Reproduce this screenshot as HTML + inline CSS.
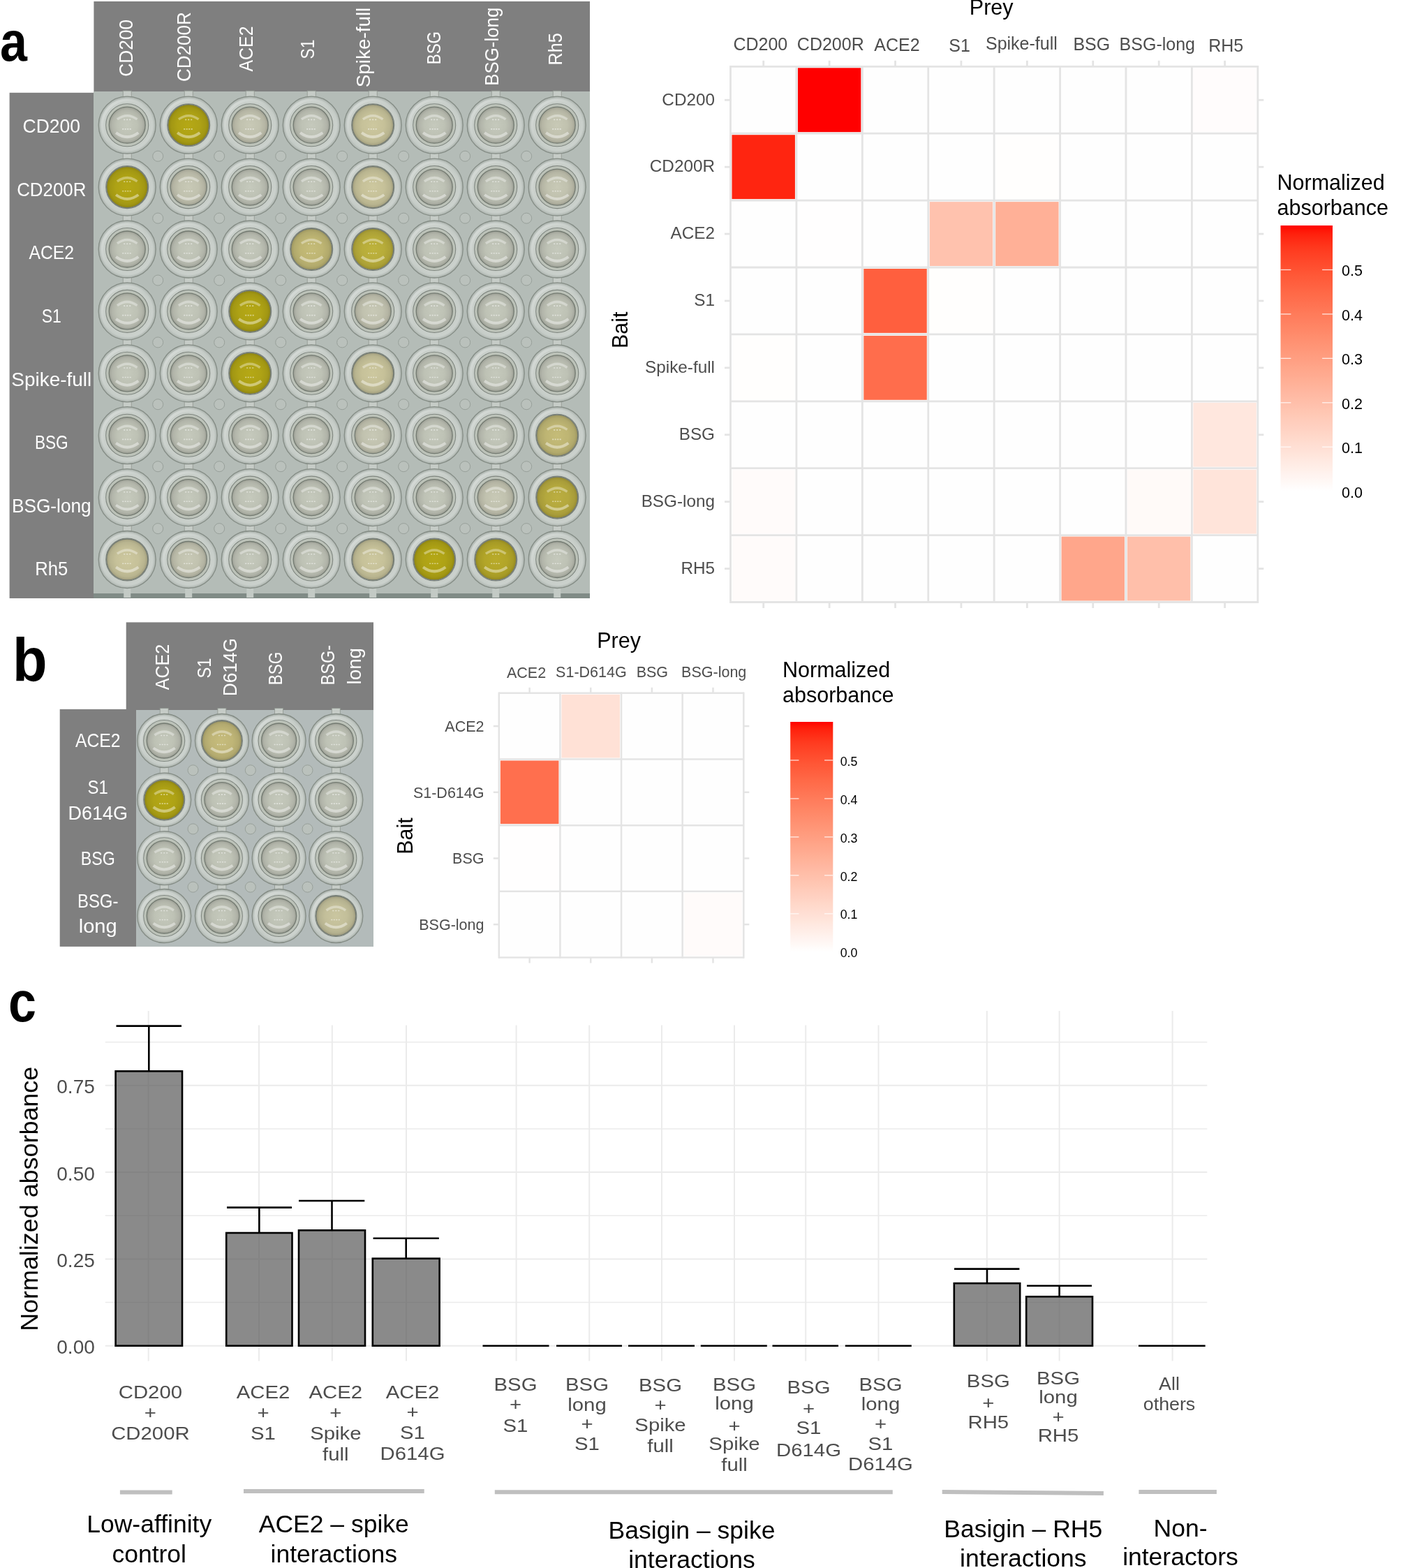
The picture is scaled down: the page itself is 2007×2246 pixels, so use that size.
<!DOCTYPE html>
<html><head><meta charset="utf-8"><title>Figure</title>
<style>html,body{margin:0;padding:0;background:#fff;} body{width:2007px;height:2246px;overflow:hidden;} svg{display:block;}</style>
</head><body>
<svg width="2007" height="2246" viewBox="0 0 2007 2246" font-family="'Liberation Sans', Arial, sans-serif"><defs>
<radialGradient id="gring" cx="50%" cy="50%" r="50%">
<stop offset="0.70" stop-color="#bac1bc"/><stop offset="0.78" stop-color="#cad0cb"/><stop offset="0.9" stop-color="#c3cac5"/><stop offset="0.97" stop-color="#b4bbb6"/><stop offset="1" stop-color="#9ea6a0"/></radialGradient>
<linearGradient id="ghl" x1="0" y1="0" x2="1" y2="1"><stop offset="0" stop-color="#ffffff" stop-opacity="0.35"/><stop offset="0.5" stop-color="#ffffff" stop-opacity="0"/><stop offset="1" stop-color="#ffffff" stop-opacity="0.15"/></linearGradient>
</defs>
<g id="pa">
<text x="0.0" y="86.8" font-size="79.5" fill="#000" text-anchor="start" font-weight="bold" transform="translate(0 86.8) scale(0.88 1) translate(0 -86.8)" >a</text>
<rect x="134.40" y="2.00" width="710.60" height="129.00" fill="#7f7f7f" />
<rect x="13.60" y="132.80" width="120.80" height="724.20" fill="#7f7f7f" />
<rect x="134.00" y="131.00" width="711.00" height="726.00" fill="#b4bcb7" />
<rect x="134.00" y="850.00" width="711.00" height="7.00" fill="#808b86" />
<rect x="177.2" y="838.5" width="10" height="17.5" fill="#c3cac5"/>
<rect x="265.2" y="838.5" width="10" height="17.5" fill="#c3cac5"/>
<rect x="353.2" y="838.5" width="10" height="17.5" fill="#c3cac5"/>
<rect x="441.2" y="838.5" width="10" height="17.5" fill="#c3cac5"/>
<rect x="529.2" y="838.5" width="10" height="17.5" fill="#c3cac5"/>
<rect x="617.2" y="838.5" width="10" height="17.5" fill="#c3cac5"/>
<rect x="705.2" y="838.5" width="10" height="17.5" fill="#c3cac5"/>
<rect x="793.2" y="838.5" width="10" height="17.5" fill="#c3cac5"/>
<rect x="176.2" y="130.2" width="12" height="14" fill="#c6ccc7" stroke="#8f978f" stroke-width="0.8"/>
<rect x="264.2" y="130.2" width="12" height="14" fill="#c6ccc7" stroke="#8f978f" stroke-width="0.8"/>
<rect x="352.2" y="130.2" width="12" height="14" fill="#c6ccc7" stroke="#8f978f" stroke-width="0.8"/>
<rect x="440.2" y="130.2" width="12" height="14" fill="#c6ccc7" stroke="#8f978f" stroke-width="0.8"/>
<rect x="528.2" y="130.2" width="12" height="14" fill="#c6ccc7" stroke="#8f978f" stroke-width="0.8"/>
<rect x="616.2" y="130.2" width="12" height="14" fill="#c6ccc7" stroke="#8f978f" stroke-width="0.8"/>
<rect x="704.2" y="130.2" width="12" height="14" fill="#c6ccc7" stroke="#8f978f" stroke-width="0.8"/>
<rect x="792.2" y="130.2" width="12" height="14" fill="#c6ccc7" stroke="#8f978f" stroke-width="0.8"/>
<rect x="176.2" y="219.1" width="12" height="14" fill="#c6ccc7" stroke="#8f978f" stroke-width="0.8"/>
<rect x="264.2" y="219.1" width="12" height="14" fill="#c6ccc7" stroke="#8f978f" stroke-width="0.8"/>
<rect x="352.2" y="219.1" width="12" height="14" fill="#c6ccc7" stroke="#8f978f" stroke-width="0.8"/>
<rect x="440.2" y="219.1" width="12" height="14" fill="#c6ccc7" stroke="#8f978f" stroke-width="0.8"/>
<rect x="528.2" y="219.1" width="12" height="14" fill="#c6ccc7" stroke="#8f978f" stroke-width="0.8"/>
<rect x="616.2" y="219.1" width="12" height="14" fill="#c6ccc7" stroke="#8f978f" stroke-width="0.8"/>
<rect x="704.2" y="219.1" width="12" height="14" fill="#c6ccc7" stroke="#8f978f" stroke-width="0.8"/>
<rect x="792.2" y="219.1" width="12" height="14" fill="#c6ccc7" stroke="#8f978f" stroke-width="0.8"/>
<rect x="176.2" y="308.0" width="12" height="14" fill="#c6ccc7" stroke="#8f978f" stroke-width="0.8"/>
<rect x="264.2" y="308.0" width="12" height="14" fill="#c6ccc7" stroke="#8f978f" stroke-width="0.8"/>
<rect x="352.2" y="308.0" width="12" height="14" fill="#c6ccc7" stroke="#8f978f" stroke-width="0.8"/>
<rect x="440.2" y="308.0" width="12" height="14" fill="#c6ccc7" stroke="#8f978f" stroke-width="0.8"/>
<rect x="528.2" y="308.0" width="12" height="14" fill="#c6ccc7" stroke="#8f978f" stroke-width="0.8"/>
<rect x="616.2" y="308.0" width="12" height="14" fill="#c6ccc7" stroke="#8f978f" stroke-width="0.8"/>
<rect x="704.2" y="308.0" width="12" height="14" fill="#c6ccc7" stroke="#8f978f" stroke-width="0.8"/>
<rect x="792.2" y="308.0" width="12" height="14" fill="#c6ccc7" stroke="#8f978f" stroke-width="0.8"/>
<rect x="176.2" y="396.9" width="12" height="14" fill="#c6ccc7" stroke="#8f978f" stroke-width="0.8"/>
<rect x="264.2" y="396.9" width="12" height="14" fill="#c6ccc7" stroke="#8f978f" stroke-width="0.8"/>
<rect x="352.2" y="396.9" width="12" height="14" fill="#c6ccc7" stroke="#8f978f" stroke-width="0.8"/>
<rect x="440.2" y="396.9" width="12" height="14" fill="#c6ccc7" stroke="#8f978f" stroke-width="0.8"/>
<rect x="528.2" y="396.9" width="12" height="14" fill="#c6ccc7" stroke="#8f978f" stroke-width="0.8"/>
<rect x="616.2" y="396.9" width="12" height="14" fill="#c6ccc7" stroke="#8f978f" stroke-width="0.8"/>
<rect x="704.2" y="396.9" width="12" height="14" fill="#c6ccc7" stroke="#8f978f" stroke-width="0.8"/>
<rect x="792.2" y="396.9" width="12" height="14" fill="#c6ccc7" stroke="#8f978f" stroke-width="0.8"/>
<rect x="176.2" y="485.8" width="12" height="14" fill="#c6ccc7" stroke="#8f978f" stroke-width="0.8"/>
<rect x="264.2" y="485.8" width="12" height="14" fill="#c6ccc7" stroke="#8f978f" stroke-width="0.8"/>
<rect x="352.2" y="485.8" width="12" height="14" fill="#c6ccc7" stroke="#8f978f" stroke-width="0.8"/>
<rect x="440.2" y="485.8" width="12" height="14" fill="#c6ccc7" stroke="#8f978f" stroke-width="0.8"/>
<rect x="528.2" y="485.8" width="12" height="14" fill="#c6ccc7" stroke="#8f978f" stroke-width="0.8"/>
<rect x="616.2" y="485.8" width="12" height="14" fill="#c6ccc7" stroke="#8f978f" stroke-width="0.8"/>
<rect x="704.2" y="485.8" width="12" height="14" fill="#c6ccc7" stroke="#8f978f" stroke-width="0.8"/>
<rect x="792.2" y="485.8" width="12" height="14" fill="#c6ccc7" stroke="#8f978f" stroke-width="0.8"/>
<rect x="176.2" y="574.7" width="12" height="14" fill="#c6ccc7" stroke="#8f978f" stroke-width="0.8"/>
<rect x="264.2" y="574.7" width="12" height="14" fill="#c6ccc7" stroke="#8f978f" stroke-width="0.8"/>
<rect x="352.2" y="574.7" width="12" height="14" fill="#c6ccc7" stroke="#8f978f" stroke-width="0.8"/>
<rect x="440.2" y="574.7" width="12" height="14" fill="#c6ccc7" stroke="#8f978f" stroke-width="0.8"/>
<rect x="528.2" y="574.7" width="12" height="14" fill="#c6ccc7" stroke="#8f978f" stroke-width="0.8"/>
<rect x="616.2" y="574.7" width="12" height="14" fill="#c6ccc7" stroke="#8f978f" stroke-width="0.8"/>
<rect x="704.2" y="574.7" width="12" height="14" fill="#c6ccc7" stroke="#8f978f" stroke-width="0.8"/>
<rect x="792.2" y="574.7" width="12" height="14" fill="#c6ccc7" stroke="#8f978f" stroke-width="0.8"/>
<rect x="176.2" y="663.6" width="12" height="14" fill="#c6ccc7" stroke="#8f978f" stroke-width="0.8"/>
<rect x="264.2" y="663.6" width="12" height="14" fill="#c6ccc7" stroke="#8f978f" stroke-width="0.8"/>
<rect x="352.2" y="663.6" width="12" height="14" fill="#c6ccc7" stroke="#8f978f" stroke-width="0.8"/>
<rect x="440.2" y="663.6" width="12" height="14" fill="#c6ccc7" stroke="#8f978f" stroke-width="0.8"/>
<rect x="528.2" y="663.6" width="12" height="14" fill="#c6ccc7" stroke="#8f978f" stroke-width="0.8"/>
<rect x="616.2" y="663.6" width="12" height="14" fill="#c6ccc7" stroke="#8f978f" stroke-width="0.8"/>
<rect x="704.2" y="663.6" width="12" height="14" fill="#c6ccc7" stroke="#8f978f" stroke-width="0.8"/>
<rect x="792.2" y="663.6" width="12" height="14" fill="#c6ccc7" stroke="#8f978f" stroke-width="0.8"/>
<rect x="176.2" y="752.5" width="12" height="14" fill="#c6ccc7" stroke="#8f978f" stroke-width="0.8"/>
<rect x="264.2" y="752.5" width="12" height="14" fill="#c6ccc7" stroke="#8f978f" stroke-width="0.8"/>
<rect x="352.2" y="752.5" width="12" height="14" fill="#c6ccc7" stroke="#8f978f" stroke-width="0.8"/>
<rect x="440.2" y="752.5" width="12" height="14" fill="#c6ccc7" stroke="#8f978f" stroke-width="0.8"/>
<rect x="528.2" y="752.5" width="12" height="14" fill="#c6ccc7" stroke="#8f978f" stroke-width="0.8"/>
<rect x="616.2" y="752.5" width="12" height="14" fill="#c6ccc7" stroke="#8f978f" stroke-width="0.8"/>
<rect x="704.2" y="752.5" width="12" height="14" fill="#c6ccc7" stroke="#8f978f" stroke-width="0.8"/>
<rect x="792.2" y="752.5" width="12" height="14" fill="#c6ccc7" stroke="#8f978f" stroke-width="0.8"/>
<circle cx="226.2" cy="223.7" r="7.5" fill="#bac1bc" stroke="#98a09a" stroke-width="1"/>
<circle cx="314.2" cy="223.7" r="7.5" fill="#bac1bc" stroke="#98a09a" stroke-width="1"/>
<circle cx="402.2" cy="223.7" r="7.5" fill="#bac1bc" stroke="#98a09a" stroke-width="1"/>
<circle cx="490.2" cy="223.7" r="7.5" fill="#bac1bc" stroke="#98a09a" stroke-width="1"/>
<circle cx="578.2" cy="223.7" r="7.5" fill="#bac1bc" stroke="#98a09a" stroke-width="1"/>
<circle cx="666.2" cy="223.7" r="7.5" fill="#bac1bc" stroke="#98a09a" stroke-width="1"/>
<circle cx="754.2" cy="223.7" r="7.5" fill="#bac1bc" stroke="#98a09a" stroke-width="1"/>
<circle cx="226.2" cy="312.6" r="7.5" fill="#bac1bc" stroke="#98a09a" stroke-width="1"/>
<circle cx="314.2" cy="312.6" r="7.5" fill="#bac1bc" stroke="#98a09a" stroke-width="1"/>
<circle cx="402.2" cy="312.6" r="7.5" fill="#bac1bc" stroke="#98a09a" stroke-width="1"/>
<circle cx="490.2" cy="312.6" r="7.5" fill="#bac1bc" stroke="#98a09a" stroke-width="1"/>
<circle cx="578.2" cy="312.6" r="7.5" fill="#bac1bc" stroke="#98a09a" stroke-width="1"/>
<circle cx="666.2" cy="312.6" r="7.5" fill="#bac1bc" stroke="#98a09a" stroke-width="1"/>
<circle cx="754.2" cy="312.6" r="7.5" fill="#bac1bc" stroke="#98a09a" stroke-width="1"/>
<circle cx="226.2" cy="401.5" r="7.5" fill="#bac1bc" stroke="#98a09a" stroke-width="1"/>
<circle cx="314.2" cy="401.5" r="7.5" fill="#bac1bc" stroke="#98a09a" stroke-width="1"/>
<circle cx="402.2" cy="401.5" r="7.5" fill="#bac1bc" stroke="#98a09a" stroke-width="1"/>
<circle cx="490.2" cy="401.5" r="7.5" fill="#bac1bc" stroke="#98a09a" stroke-width="1"/>
<circle cx="578.2" cy="401.5" r="7.5" fill="#bac1bc" stroke="#98a09a" stroke-width="1"/>
<circle cx="666.2" cy="401.5" r="7.5" fill="#bac1bc" stroke="#98a09a" stroke-width="1"/>
<circle cx="754.2" cy="401.5" r="7.5" fill="#bac1bc" stroke="#98a09a" stroke-width="1"/>
<circle cx="226.2" cy="490.4" r="7.5" fill="#bac1bc" stroke="#98a09a" stroke-width="1"/>
<circle cx="314.2" cy="490.4" r="7.5" fill="#bac1bc" stroke="#98a09a" stroke-width="1"/>
<circle cx="402.2" cy="490.4" r="7.5" fill="#bac1bc" stroke="#98a09a" stroke-width="1"/>
<circle cx="490.2" cy="490.4" r="7.5" fill="#bac1bc" stroke="#98a09a" stroke-width="1"/>
<circle cx="578.2" cy="490.4" r="7.5" fill="#bac1bc" stroke="#98a09a" stroke-width="1"/>
<circle cx="666.2" cy="490.4" r="7.5" fill="#bac1bc" stroke="#98a09a" stroke-width="1"/>
<circle cx="754.2" cy="490.4" r="7.5" fill="#bac1bc" stroke="#98a09a" stroke-width="1"/>
<circle cx="226.2" cy="579.2" r="7.5" fill="#bac1bc" stroke="#98a09a" stroke-width="1"/>
<circle cx="314.2" cy="579.2" r="7.5" fill="#bac1bc" stroke="#98a09a" stroke-width="1"/>
<circle cx="402.2" cy="579.2" r="7.5" fill="#bac1bc" stroke="#98a09a" stroke-width="1"/>
<circle cx="490.2" cy="579.2" r="7.5" fill="#bac1bc" stroke="#98a09a" stroke-width="1"/>
<circle cx="578.2" cy="579.2" r="7.5" fill="#bac1bc" stroke="#98a09a" stroke-width="1"/>
<circle cx="666.2" cy="579.2" r="7.5" fill="#bac1bc" stroke="#98a09a" stroke-width="1"/>
<circle cx="754.2" cy="579.2" r="7.5" fill="#bac1bc" stroke="#98a09a" stroke-width="1"/>
<circle cx="226.2" cy="668.2" r="7.5" fill="#bac1bc" stroke="#98a09a" stroke-width="1"/>
<circle cx="314.2" cy="668.2" r="7.5" fill="#bac1bc" stroke="#98a09a" stroke-width="1"/>
<circle cx="402.2" cy="668.2" r="7.5" fill="#bac1bc" stroke="#98a09a" stroke-width="1"/>
<circle cx="490.2" cy="668.2" r="7.5" fill="#bac1bc" stroke="#98a09a" stroke-width="1"/>
<circle cx="578.2" cy="668.2" r="7.5" fill="#bac1bc" stroke="#98a09a" stroke-width="1"/>
<circle cx="666.2" cy="668.2" r="7.5" fill="#bac1bc" stroke="#98a09a" stroke-width="1"/>
<circle cx="754.2" cy="668.2" r="7.5" fill="#bac1bc" stroke="#98a09a" stroke-width="1"/>
<circle cx="226.2" cy="757.1" r="7.5" fill="#bac1bc" stroke="#98a09a" stroke-width="1"/>
<circle cx="314.2" cy="757.1" r="7.5" fill="#bac1bc" stroke="#98a09a" stroke-width="1"/>
<circle cx="402.2" cy="757.1" r="7.5" fill="#bac1bc" stroke="#98a09a" stroke-width="1"/>
<circle cx="490.2" cy="757.1" r="7.5" fill="#bac1bc" stroke="#98a09a" stroke-width="1"/>
<circle cx="578.2" cy="757.1" r="7.5" fill="#bac1bc" stroke="#98a09a" stroke-width="1"/>
<circle cx="666.2" cy="757.1" r="7.5" fill="#bac1bc" stroke="#98a09a" stroke-width="1"/>
<circle cx="754.2" cy="757.1" r="7.5" fill="#bac1bc" stroke="#98a09a" stroke-width="1"/>
<radialGradient id="lq0" cx="50%" cy="50%" r="50%"><stop offset="0" stop-color="#c5c9bc"/><stop offset="0.55" stop-color="#bec2b5"/><stop offset="0.85" stop-color="#b1b4a9"/><stop offset="1" stop-color="#9b9e94"/></radialGradient>
<circle cx="182.2" cy="179.2" r="41" fill="url(#gring)" stroke="#858d86" stroke-width="1.3"/>
<circle cx="182.2" cy="179.2" r="30.5" fill="none" stroke="#7f867e" stroke-width="1.1"/>
<circle cx="182.2" cy="179.2" r="29.5" fill="#bcc2b8"/>
<circle cx="182.2" cy="179.2" r="26" fill="url(#lq0)" stroke="#737a71" stroke-width="1.3"/>
<circle cx="182.2" cy="179.2" r="36" fill="none" stroke="url(#ghl)" stroke-width="4"/>
<path d="M166.1 190.1 Q182.2 202.1 198.3 190.1" stroke="#ffffff" stroke-opacity="0.42" stroke-width="4" fill="none"/>
<path d="M167.9 170.9 Q182.2 160.5 196.5 170.9" stroke="#ffffff" stroke-opacity="0.35" stroke-width="3.5" fill="none"/>
<line x1="177.2" y1="171.4" x2="187.2" y2="171.4" stroke="#ffffff" stroke-opacity="0.5" stroke-width="1.6" stroke-dasharray="2 2"/>
<line x1="175.2" y1="184.9" x2="189.2" y2="184.9" stroke="#ffffff" stroke-opacity="0.5" stroke-width="1.6" stroke-dasharray="2 1.5"/>
<radialGradient id="lq1" cx="50%" cy="50%" r="50%"><stop offset="0" stop-color="#b5a815"/><stop offset="0.55" stop-color="#aea215"/><stop offset="0.85" stop-color="#a29713"/><stop offset="1" stop-color="#8e8411"/></radialGradient>
<circle cx="270.2" cy="179.2" r="41" fill="url(#gring)" stroke="#858d86" stroke-width="1.3"/>
<circle cx="270.2" cy="179.2" r="30.5" fill="none" stroke="#7f867e" stroke-width="1.1"/>
<circle cx="270.2" cy="179.2" r="29.5" fill="#bcc2b8"/>
<circle cx="270.2" cy="179.2" r="29.5" fill="url(#lq1)" stroke="#737a71" stroke-width="1.3"/>
<circle cx="270.2" cy="179.2" r="36" fill="none" stroke="url(#ghl)" stroke-width="4"/>
<path d="M254.1 190.1 Q270.2 202.1 286.3 190.1" stroke="#ffffff" stroke-opacity="0.42" stroke-width="4" fill="none"/>
<path d="M255.9 170.9 Q270.2 160.5 284.5 170.9" stroke="#ffffff" stroke-opacity="0.35" stroke-width="3.5" fill="none"/>
<line x1="265.2" y1="171.4" x2="275.2" y2="171.4" stroke="#ffffff" stroke-opacity="0.5" stroke-width="1.6" stroke-dasharray="2 2"/>
<line x1="263.2" y1="184.9" x2="277.2" y2="184.9" stroke="#ffffff" stroke-opacity="0.5" stroke-width="1.6" stroke-dasharray="2 1.5"/>
<radialGradient id="lq2" cx="50%" cy="50%" r="50%"><stop offset="0" stop-color="#c8c9b6"/><stop offset="0.55" stop-color="#c1c2af"/><stop offset="0.85" stop-color="#b4b4a3"/><stop offset="1" stop-color="#9d9e8f"/></radialGradient>
<circle cx="358.2" cy="179.2" r="41" fill="url(#gring)" stroke="#858d86" stroke-width="1.3"/>
<circle cx="358.2" cy="179.2" r="30.5" fill="none" stroke="#7f867e" stroke-width="1.1"/>
<circle cx="358.2" cy="179.2" r="29.5" fill="#bcc2b8"/>
<circle cx="358.2" cy="179.2" r="26" fill="url(#lq2)" stroke="#737a71" stroke-width="1.3"/>
<circle cx="358.2" cy="179.2" r="36" fill="none" stroke="url(#ghl)" stroke-width="4"/>
<path d="M342.1 190.1 Q358.2 202.1 374.3 190.1" stroke="#ffffff" stroke-opacity="0.42" stroke-width="4" fill="none"/>
<path d="M343.9 170.9 Q358.2 160.5 372.5 170.9" stroke="#ffffff" stroke-opacity="0.35" stroke-width="3.5" fill="none"/>
<line x1="353.2" y1="171.4" x2="363.2" y2="171.4" stroke="#ffffff" stroke-opacity="0.5" stroke-width="1.6" stroke-dasharray="2 2"/>
<line x1="351.2" y1="184.9" x2="365.2" y2="184.9" stroke="#ffffff" stroke-opacity="0.5" stroke-width="1.6" stroke-dasharray="2 1.5"/>
<circle cx="446.2" cy="179.2" r="41" fill="url(#gring)" stroke="#858d86" stroke-width="1.3"/>
<circle cx="446.2" cy="179.2" r="30.5" fill="none" stroke="#7f867e" stroke-width="1.1"/>
<circle cx="446.2" cy="179.2" r="29.5" fill="#bcc2b8"/>
<circle cx="446.2" cy="179.2" r="26" fill="url(#lq0)" stroke="#737a71" stroke-width="1.3"/>
<circle cx="446.2" cy="179.2" r="36" fill="none" stroke="url(#ghl)" stroke-width="4"/>
<path d="M430.1 190.1 Q446.2 202.1 462.3 190.1" stroke="#ffffff" stroke-opacity="0.42" stroke-width="4" fill="none"/>
<path d="M431.9 170.9 Q446.2 160.5 460.5 170.9" stroke="#ffffff" stroke-opacity="0.35" stroke-width="3.5" fill="none"/>
<line x1="441.2" y1="171.4" x2="451.2" y2="171.4" stroke="#ffffff" stroke-opacity="0.5" stroke-width="1.6" stroke-dasharray="2 2"/>
<line x1="439.2" y1="184.9" x2="453.2" y2="184.9" stroke="#ffffff" stroke-opacity="0.5" stroke-width="1.6" stroke-dasharray="2 1.5"/>
<radialGradient id="lq3" cx="50%" cy="50%" r="50%"><stop offset="0" stop-color="#cdc89f"/><stop offset="0.55" stop-color="#c6c199"/><stop offset="0.85" stop-color="#b8b48f"/><stop offset="1" stop-color="#a19d7d"/></radialGradient>
<circle cx="534.2" cy="179.2" r="41" fill="url(#gring)" stroke="#858d86" stroke-width="1.3"/>
<circle cx="534.2" cy="179.2" r="30.5" fill="none" stroke="#7f867e" stroke-width="1.1"/>
<circle cx="534.2" cy="179.2" r="29.5" fill="#bcc2b8"/>
<circle cx="534.2" cy="179.2" r="29.5" fill="url(#lq3)" stroke="#737a71" stroke-width="1.3"/>
<circle cx="534.2" cy="179.2" r="36" fill="none" stroke="url(#ghl)" stroke-width="4"/>
<path d="M518.1 190.1 Q534.2 202.1 550.3 190.1" stroke="#ffffff" stroke-opacity="0.42" stroke-width="4" fill="none"/>
<path d="M519.9 170.9 Q534.2 160.5 548.5 170.9" stroke="#ffffff" stroke-opacity="0.35" stroke-width="3.5" fill="none"/>
<line x1="529.2" y1="171.4" x2="539.2" y2="171.4" stroke="#ffffff" stroke-opacity="0.5" stroke-width="1.6" stroke-dasharray="2 2"/>
<line x1="527.2" y1="184.9" x2="541.2" y2="184.9" stroke="#ffffff" stroke-opacity="0.5" stroke-width="1.6" stroke-dasharray="2 1.5"/>
<circle cx="622.2" cy="179.2" r="41" fill="url(#gring)" stroke="#858d86" stroke-width="1.3"/>
<circle cx="622.2" cy="179.2" r="30.5" fill="none" stroke="#7f867e" stroke-width="1.1"/>
<circle cx="622.2" cy="179.2" r="29.5" fill="#bcc2b8"/>
<circle cx="622.2" cy="179.2" r="26" fill="url(#lq0)" stroke="#737a71" stroke-width="1.3"/>
<circle cx="622.2" cy="179.2" r="36" fill="none" stroke="url(#ghl)" stroke-width="4"/>
<path d="M606.1 190.1 Q622.2 202.1 638.3 190.1" stroke="#ffffff" stroke-opacity="0.42" stroke-width="4" fill="none"/>
<path d="M607.9 170.9 Q622.2 160.5 636.5 170.9" stroke="#ffffff" stroke-opacity="0.35" stroke-width="3.5" fill="none"/>
<line x1="617.2" y1="171.4" x2="627.2" y2="171.4" stroke="#ffffff" stroke-opacity="0.5" stroke-width="1.6" stroke-dasharray="2 2"/>
<line x1="615.2" y1="184.9" x2="629.2" y2="184.9" stroke="#ffffff" stroke-opacity="0.5" stroke-width="1.6" stroke-dasharray="2 1.5"/>
<circle cx="710.2" cy="179.2" r="41" fill="url(#gring)" stroke="#858d86" stroke-width="1.3"/>
<circle cx="710.2" cy="179.2" r="30.5" fill="none" stroke="#7f867e" stroke-width="1.1"/>
<circle cx="710.2" cy="179.2" r="29.5" fill="#bcc2b8"/>
<circle cx="710.2" cy="179.2" r="26" fill="url(#lq0)" stroke="#737a71" stroke-width="1.3"/>
<circle cx="710.2" cy="179.2" r="36" fill="none" stroke="url(#ghl)" stroke-width="4"/>
<path d="M694.1 190.1 Q710.2 202.1 726.3 190.1" stroke="#ffffff" stroke-opacity="0.42" stroke-width="4" fill="none"/>
<path d="M695.9 170.9 Q710.2 160.5 724.5 170.9" stroke="#ffffff" stroke-opacity="0.35" stroke-width="3.5" fill="none"/>
<line x1="705.2" y1="171.4" x2="715.2" y2="171.4" stroke="#ffffff" stroke-opacity="0.5" stroke-width="1.6" stroke-dasharray="2 2"/>
<line x1="703.2" y1="184.9" x2="717.2" y2="184.9" stroke="#ffffff" stroke-opacity="0.5" stroke-width="1.6" stroke-dasharray="2 1.5"/>
<circle cx="798.2" cy="179.2" r="41" fill="url(#gring)" stroke="#858d86" stroke-width="1.3"/>
<circle cx="798.2" cy="179.2" r="30.5" fill="none" stroke="#7f867e" stroke-width="1.1"/>
<circle cx="798.2" cy="179.2" r="29.5" fill="#bcc2b8"/>
<circle cx="798.2" cy="179.2" r="26" fill="url(#lq2)" stroke="#737a71" stroke-width="1.3"/>
<circle cx="798.2" cy="179.2" r="36" fill="none" stroke="url(#ghl)" stroke-width="4"/>
<path d="M782.1 190.1 Q798.2 202.1 814.3 190.1" stroke="#ffffff" stroke-opacity="0.42" stroke-width="4" fill="none"/>
<path d="M783.9 170.9 Q798.2 160.5 812.5 170.9" stroke="#ffffff" stroke-opacity="0.35" stroke-width="3.5" fill="none"/>
<line x1="793.2" y1="171.4" x2="803.2" y2="171.4" stroke="#ffffff" stroke-opacity="0.5" stroke-width="1.6" stroke-dasharray="2 2"/>
<line x1="791.2" y1="184.9" x2="805.2" y2="184.9" stroke="#ffffff" stroke-opacity="0.5" stroke-width="1.6" stroke-dasharray="2 1.5"/>
<circle cx="182.2" cy="268.1" r="41" fill="url(#gring)" stroke="#858d86" stroke-width="1.3"/>
<circle cx="182.2" cy="268.1" r="30.5" fill="none" stroke="#7f867e" stroke-width="1.1"/>
<circle cx="182.2" cy="268.1" r="29.5" fill="#bcc2b8"/>
<circle cx="182.2" cy="268.1" r="29.5" fill="url(#lq1)" stroke="#737a71" stroke-width="1.3"/>
<circle cx="182.2" cy="268.1" r="36" fill="none" stroke="url(#ghl)" stroke-width="4"/>
<path d="M166.1 279.0 Q182.2 291.0 198.3 279.0" stroke="#ffffff" stroke-opacity="0.42" stroke-width="4" fill="none"/>
<path d="M167.9 259.8 Q182.2 249.4 196.5 259.8" stroke="#ffffff" stroke-opacity="0.35" stroke-width="3.5" fill="none"/>
<line x1="177.2" y1="260.3" x2="187.2" y2="260.3" stroke="#ffffff" stroke-opacity="0.5" stroke-width="1.6" stroke-dasharray="2 2"/>
<line x1="175.2" y1="273.8" x2="189.2" y2="273.8" stroke="#ffffff" stroke-opacity="0.5" stroke-width="1.6" stroke-dasharray="2 1.5"/>
<circle cx="270.2" cy="268.1" r="41" fill="url(#gring)" stroke="#858d86" stroke-width="1.3"/>
<circle cx="270.2" cy="268.1" r="30.5" fill="none" stroke="#7f867e" stroke-width="1.1"/>
<circle cx="270.2" cy="268.1" r="29.5" fill="#bcc2b8"/>
<circle cx="270.2" cy="268.1" r="26" fill="url(#lq2)" stroke="#737a71" stroke-width="1.3"/>
<circle cx="270.2" cy="268.1" r="36" fill="none" stroke="url(#ghl)" stroke-width="4"/>
<path d="M254.1 279.0 Q270.2 291.0 286.3 279.0" stroke="#ffffff" stroke-opacity="0.42" stroke-width="4" fill="none"/>
<path d="M255.9 259.8 Q270.2 249.4 284.5 259.8" stroke="#ffffff" stroke-opacity="0.35" stroke-width="3.5" fill="none"/>
<line x1="265.2" y1="260.3" x2="275.2" y2="260.3" stroke="#ffffff" stroke-opacity="0.5" stroke-width="1.6" stroke-dasharray="2 2"/>
<line x1="263.2" y1="273.8" x2="277.2" y2="273.8" stroke="#ffffff" stroke-opacity="0.5" stroke-width="1.6" stroke-dasharray="2 1.5"/>
<circle cx="358.2" cy="268.1" r="41" fill="url(#gring)" stroke="#858d86" stroke-width="1.3"/>
<circle cx="358.2" cy="268.1" r="30.5" fill="none" stroke="#7f867e" stroke-width="1.1"/>
<circle cx="358.2" cy="268.1" r="29.5" fill="#bcc2b8"/>
<circle cx="358.2" cy="268.1" r="26" fill="url(#lq0)" stroke="#737a71" stroke-width="1.3"/>
<circle cx="358.2" cy="268.1" r="36" fill="none" stroke="url(#ghl)" stroke-width="4"/>
<path d="M342.1 279.0 Q358.2 291.0 374.3 279.0" stroke="#ffffff" stroke-opacity="0.42" stroke-width="4" fill="none"/>
<path d="M343.9 259.8 Q358.2 249.4 372.5 259.8" stroke="#ffffff" stroke-opacity="0.35" stroke-width="3.5" fill="none"/>
<line x1="353.2" y1="260.3" x2="363.2" y2="260.3" stroke="#ffffff" stroke-opacity="0.5" stroke-width="1.6" stroke-dasharray="2 2"/>
<line x1="351.2" y1="273.8" x2="365.2" y2="273.8" stroke="#ffffff" stroke-opacity="0.5" stroke-width="1.6" stroke-dasharray="2 1.5"/>
<circle cx="446.2" cy="268.1" r="41" fill="url(#gring)" stroke="#858d86" stroke-width="1.3"/>
<circle cx="446.2" cy="268.1" r="30.5" fill="none" stroke="#7f867e" stroke-width="1.1"/>
<circle cx="446.2" cy="268.1" r="29.5" fill="#bcc2b8"/>
<circle cx="446.2" cy="268.1" r="26" fill="url(#lq0)" stroke="#737a71" stroke-width="1.3"/>
<circle cx="446.2" cy="268.1" r="36" fill="none" stroke="url(#ghl)" stroke-width="4"/>
<path d="M430.1 279.0 Q446.2 291.0 462.3 279.0" stroke="#ffffff" stroke-opacity="0.42" stroke-width="4" fill="none"/>
<path d="M431.9 259.8 Q446.2 249.4 460.5 259.8" stroke="#ffffff" stroke-opacity="0.35" stroke-width="3.5" fill="none"/>
<line x1="441.2" y1="260.3" x2="451.2" y2="260.3" stroke="#ffffff" stroke-opacity="0.5" stroke-width="1.6" stroke-dasharray="2 2"/>
<line x1="439.2" y1="273.8" x2="453.2" y2="273.8" stroke="#ffffff" stroke-opacity="0.5" stroke-width="1.6" stroke-dasharray="2 1.5"/>
<circle cx="534.2" cy="268.1" r="41" fill="url(#gring)" stroke="#858d86" stroke-width="1.3"/>
<circle cx="534.2" cy="268.1" r="30.5" fill="none" stroke="#7f867e" stroke-width="1.1"/>
<circle cx="534.2" cy="268.1" r="29.5" fill="#bcc2b8"/>
<circle cx="534.2" cy="268.1" r="29.5" fill="url(#lq3)" stroke="#737a71" stroke-width="1.3"/>
<circle cx="534.2" cy="268.1" r="36" fill="none" stroke="url(#ghl)" stroke-width="4"/>
<path d="M518.1 279.0 Q534.2 291.0 550.3 279.0" stroke="#ffffff" stroke-opacity="0.42" stroke-width="4" fill="none"/>
<path d="M519.9 259.8 Q534.2 249.4 548.5 259.8" stroke="#ffffff" stroke-opacity="0.35" stroke-width="3.5" fill="none"/>
<line x1="529.2" y1="260.3" x2="539.2" y2="260.3" stroke="#ffffff" stroke-opacity="0.5" stroke-width="1.6" stroke-dasharray="2 2"/>
<line x1="527.2" y1="273.8" x2="541.2" y2="273.8" stroke="#ffffff" stroke-opacity="0.5" stroke-width="1.6" stroke-dasharray="2 1.5"/>
<circle cx="622.2" cy="268.1" r="41" fill="url(#gring)" stroke="#858d86" stroke-width="1.3"/>
<circle cx="622.2" cy="268.1" r="30.5" fill="none" stroke="#7f867e" stroke-width="1.1"/>
<circle cx="622.2" cy="268.1" r="29.5" fill="#bcc2b8"/>
<circle cx="622.2" cy="268.1" r="26" fill="url(#lq0)" stroke="#737a71" stroke-width="1.3"/>
<circle cx="622.2" cy="268.1" r="36" fill="none" stroke="url(#ghl)" stroke-width="4"/>
<path d="M606.1 279.0 Q622.2 291.0 638.3 279.0" stroke="#ffffff" stroke-opacity="0.42" stroke-width="4" fill="none"/>
<path d="M607.9 259.8 Q622.2 249.4 636.5 259.8" stroke="#ffffff" stroke-opacity="0.35" stroke-width="3.5" fill="none"/>
<line x1="617.2" y1="260.3" x2="627.2" y2="260.3" stroke="#ffffff" stroke-opacity="0.5" stroke-width="1.6" stroke-dasharray="2 2"/>
<line x1="615.2" y1="273.8" x2="629.2" y2="273.8" stroke="#ffffff" stroke-opacity="0.5" stroke-width="1.6" stroke-dasharray="2 1.5"/>
<circle cx="710.2" cy="268.1" r="41" fill="url(#gring)" stroke="#858d86" stroke-width="1.3"/>
<circle cx="710.2" cy="268.1" r="30.5" fill="none" stroke="#7f867e" stroke-width="1.1"/>
<circle cx="710.2" cy="268.1" r="29.5" fill="#bcc2b8"/>
<circle cx="710.2" cy="268.1" r="26" fill="url(#lq0)" stroke="#737a71" stroke-width="1.3"/>
<circle cx="710.2" cy="268.1" r="36" fill="none" stroke="url(#ghl)" stroke-width="4"/>
<path d="M694.1 279.0 Q710.2 291.0 726.3 279.0" stroke="#ffffff" stroke-opacity="0.42" stroke-width="4" fill="none"/>
<path d="M695.9 259.8 Q710.2 249.4 724.5 259.8" stroke="#ffffff" stroke-opacity="0.35" stroke-width="3.5" fill="none"/>
<line x1="705.2" y1="260.3" x2="715.2" y2="260.3" stroke="#ffffff" stroke-opacity="0.5" stroke-width="1.6" stroke-dasharray="2 2"/>
<line x1="703.2" y1="273.8" x2="717.2" y2="273.8" stroke="#ffffff" stroke-opacity="0.5" stroke-width="1.6" stroke-dasharray="2 1.5"/>
<circle cx="798.2" cy="268.1" r="41" fill="url(#gring)" stroke="#858d86" stroke-width="1.3"/>
<circle cx="798.2" cy="268.1" r="30.5" fill="none" stroke="#7f867e" stroke-width="1.1"/>
<circle cx="798.2" cy="268.1" r="29.5" fill="#bcc2b8"/>
<circle cx="798.2" cy="268.1" r="26" fill="url(#lq2)" stroke="#737a71" stroke-width="1.3"/>
<circle cx="798.2" cy="268.1" r="36" fill="none" stroke="url(#ghl)" stroke-width="4"/>
<path d="M782.1 279.0 Q798.2 291.0 814.3 279.0" stroke="#ffffff" stroke-opacity="0.42" stroke-width="4" fill="none"/>
<path d="M783.9 259.8 Q798.2 249.4 812.5 259.8" stroke="#ffffff" stroke-opacity="0.35" stroke-width="3.5" fill="none"/>
<line x1="793.2" y1="260.3" x2="803.2" y2="260.3" stroke="#ffffff" stroke-opacity="0.5" stroke-width="1.6" stroke-dasharray="2 2"/>
<line x1="791.2" y1="273.8" x2="805.2" y2="273.8" stroke="#ffffff" stroke-opacity="0.5" stroke-width="1.6" stroke-dasharray="2 1.5"/>
<circle cx="182.2" cy="357.0" r="41" fill="url(#gring)" stroke="#858d86" stroke-width="1.3"/>
<circle cx="182.2" cy="357.0" r="30.5" fill="none" stroke="#7f867e" stroke-width="1.1"/>
<circle cx="182.2" cy="357.0" r="29.5" fill="#bcc2b8"/>
<circle cx="182.2" cy="357.0" r="26" fill="url(#lq0)" stroke="#737a71" stroke-width="1.3"/>
<circle cx="182.2" cy="357.0" r="36" fill="none" stroke="url(#ghl)" stroke-width="4"/>
<path d="M166.1 367.9 Q182.2 379.9 198.3 367.9" stroke="#ffffff" stroke-opacity="0.42" stroke-width="4" fill="none"/>
<path d="M167.9 348.7 Q182.2 338.3 196.5 348.7" stroke="#ffffff" stroke-opacity="0.35" stroke-width="3.5" fill="none"/>
<line x1="177.2" y1="349.2" x2="187.2" y2="349.2" stroke="#ffffff" stroke-opacity="0.5" stroke-width="1.6" stroke-dasharray="2 2"/>
<line x1="175.2" y1="362.7" x2="189.2" y2="362.7" stroke="#ffffff" stroke-opacity="0.5" stroke-width="1.6" stroke-dasharray="2 1.5"/>
<circle cx="270.2" cy="357.0" r="41" fill="url(#gring)" stroke="#858d86" stroke-width="1.3"/>
<circle cx="270.2" cy="357.0" r="30.5" fill="none" stroke="#7f867e" stroke-width="1.1"/>
<circle cx="270.2" cy="357.0" r="29.5" fill="#bcc2b8"/>
<circle cx="270.2" cy="357.0" r="26" fill="url(#lq0)" stroke="#737a71" stroke-width="1.3"/>
<circle cx="270.2" cy="357.0" r="36" fill="none" stroke="url(#ghl)" stroke-width="4"/>
<path d="M254.1 367.9 Q270.2 379.9 286.3 367.9" stroke="#ffffff" stroke-opacity="0.42" stroke-width="4" fill="none"/>
<path d="M255.9 348.7 Q270.2 338.3 284.5 348.7" stroke="#ffffff" stroke-opacity="0.35" stroke-width="3.5" fill="none"/>
<line x1="265.2" y1="349.2" x2="275.2" y2="349.2" stroke="#ffffff" stroke-opacity="0.5" stroke-width="1.6" stroke-dasharray="2 2"/>
<line x1="263.2" y1="362.7" x2="277.2" y2="362.7" stroke="#ffffff" stroke-opacity="0.5" stroke-width="1.6" stroke-dasharray="2 1.5"/>
<circle cx="358.2" cy="357.0" r="41" fill="url(#gring)" stroke="#858d86" stroke-width="1.3"/>
<circle cx="358.2" cy="357.0" r="30.5" fill="none" stroke="#7f867e" stroke-width="1.1"/>
<circle cx="358.2" cy="357.0" r="29.5" fill="#bcc2b8"/>
<circle cx="358.2" cy="357.0" r="26" fill="url(#lq0)" stroke="#737a71" stroke-width="1.3"/>
<circle cx="358.2" cy="357.0" r="36" fill="none" stroke="url(#ghl)" stroke-width="4"/>
<path d="M342.1 367.9 Q358.2 379.9 374.3 367.9" stroke="#ffffff" stroke-opacity="0.42" stroke-width="4" fill="none"/>
<path d="M343.9 348.7 Q358.2 338.3 372.5 348.7" stroke="#ffffff" stroke-opacity="0.35" stroke-width="3.5" fill="none"/>
<line x1="353.2" y1="349.2" x2="363.2" y2="349.2" stroke="#ffffff" stroke-opacity="0.5" stroke-width="1.6" stroke-dasharray="2 2"/>
<line x1="351.2" y1="362.7" x2="365.2" y2="362.7" stroke="#ffffff" stroke-opacity="0.5" stroke-width="1.6" stroke-dasharray="2 1.5"/>
<radialGradient id="lq4" cx="50%" cy="50%" r="50%"><stop offset="0" stop-color="#c5bc78"/><stop offset="0.55" stop-color="#beb573"/><stop offset="0.85" stop-color="#b1a96c"/><stop offset="1" stop-color="#9b945e"/></radialGradient>
<circle cx="446.2" cy="357.0" r="41" fill="url(#gring)" stroke="#858d86" stroke-width="1.3"/>
<circle cx="446.2" cy="357.0" r="30.5" fill="none" stroke="#7f867e" stroke-width="1.1"/>
<circle cx="446.2" cy="357.0" r="29.5" fill="#bcc2b8"/>
<circle cx="446.2" cy="357.0" r="29.5" fill="url(#lq4)" stroke="#737a71" stroke-width="1.3"/>
<circle cx="446.2" cy="357.0" r="36" fill="none" stroke="url(#ghl)" stroke-width="4"/>
<path d="M430.1 367.9 Q446.2 379.9 462.3 367.9" stroke="#ffffff" stroke-opacity="0.42" stroke-width="4" fill="none"/>
<path d="M431.9 348.7 Q446.2 338.3 460.5 348.7" stroke="#ffffff" stroke-opacity="0.35" stroke-width="3.5" fill="none"/>
<line x1="441.2" y1="349.2" x2="451.2" y2="349.2" stroke="#ffffff" stroke-opacity="0.5" stroke-width="1.6" stroke-dasharray="2 2"/>
<line x1="439.2" y1="362.7" x2="453.2" y2="362.7" stroke="#ffffff" stroke-opacity="0.5" stroke-width="1.6" stroke-dasharray="2 1.5"/>
<radialGradient id="lq5" cx="50%" cy="50%" r="50%"><stop offset="0" stop-color="#beb33c"/><stop offset="0.55" stop-color="#b7ac3a"/><stop offset="0.85" stop-color="#aba036"/><stop offset="1" stop-color="#968c2f"/></radialGradient>
<circle cx="534.2" cy="357.0" r="41" fill="url(#gring)" stroke="#858d86" stroke-width="1.3"/>
<circle cx="534.2" cy="357.0" r="30.5" fill="none" stroke="#7f867e" stroke-width="1.1"/>
<circle cx="534.2" cy="357.0" r="29.5" fill="#bcc2b8"/>
<circle cx="534.2" cy="357.0" r="29.5" fill="url(#lq5)" stroke="#737a71" stroke-width="1.3"/>
<circle cx="534.2" cy="357.0" r="36" fill="none" stroke="url(#ghl)" stroke-width="4"/>
<path d="M518.1 367.9 Q534.2 379.9 550.3 367.9" stroke="#ffffff" stroke-opacity="0.42" stroke-width="4" fill="none"/>
<path d="M519.9 348.7 Q534.2 338.3 548.5 348.7" stroke="#ffffff" stroke-opacity="0.35" stroke-width="3.5" fill="none"/>
<line x1="529.2" y1="349.2" x2="539.2" y2="349.2" stroke="#ffffff" stroke-opacity="0.5" stroke-width="1.6" stroke-dasharray="2 2"/>
<line x1="527.2" y1="362.7" x2="541.2" y2="362.7" stroke="#ffffff" stroke-opacity="0.5" stroke-width="1.6" stroke-dasharray="2 1.5"/>
<circle cx="622.2" cy="357.0" r="41" fill="url(#gring)" stroke="#858d86" stroke-width="1.3"/>
<circle cx="622.2" cy="357.0" r="30.5" fill="none" stroke="#7f867e" stroke-width="1.1"/>
<circle cx="622.2" cy="357.0" r="29.5" fill="#bcc2b8"/>
<circle cx="622.2" cy="357.0" r="26" fill="url(#lq0)" stroke="#737a71" stroke-width="1.3"/>
<circle cx="622.2" cy="357.0" r="36" fill="none" stroke="url(#ghl)" stroke-width="4"/>
<path d="M606.1 367.9 Q622.2 379.9 638.3 367.9" stroke="#ffffff" stroke-opacity="0.42" stroke-width="4" fill="none"/>
<path d="M607.9 348.7 Q622.2 338.3 636.5 348.7" stroke="#ffffff" stroke-opacity="0.35" stroke-width="3.5" fill="none"/>
<line x1="617.2" y1="349.2" x2="627.2" y2="349.2" stroke="#ffffff" stroke-opacity="0.5" stroke-width="1.6" stroke-dasharray="2 2"/>
<line x1="615.2" y1="362.7" x2="629.2" y2="362.7" stroke="#ffffff" stroke-opacity="0.5" stroke-width="1.6" stroke-dasharray="2 1.5"/>
<circle cx="710.2" cy="357.0" r="41" fill="url(#gring)" stroke="#858d86" stroke-width="1.3"/>
<circle cx="710.2" cy="357.0" r="30.5" fill="none" stroke="#7f867e" stroke-width="1.1"/>
<circle cx="710.2" cy="357.0" r="29.5" fill="#bcc2b8"/>
<circle cx="710.2" cy="357.0" r="26" fill="url(#lq0)" stroke="#737a71" stroke-width="1.3"/>
<circle cx="710.2" cy="357.0" r="36" fill="none" stroke="url(#ghl)" stroke-width="4"/>
<path d="M694.1 367.9 Q710.2 379.9 726.3 367.9" stroke="#ffffff" stroke-opacity="0.42" stroke-width="4" fill="none"/>
<path d="M695.9 348.7 Q710.2 338.3 724.5 348.7" stroke="#ffffff" stroke-opacity="0.35" stroke-width="3.5" fill="none"/>
<line x1="705.2" y1="349.2" x2="715.2" y2="349.2" stroke="#ffffff" stroke-opacity="0.5" stroke-width="1.6" stroke-dasharray="2 2"/>
<line x1="703.2" y1="362.7" x2="717.2" y2="362.7" stroke="#ffffff" stroke-opacity="0.5" stroke-width="1.6" stroke-dasharray="2 1.5"/>
<circle cx="798.2" cy="357.0" r="41" fill="url(#gring)" stroke="#858d86" stroke-width="1.3"/>
<circle cx="798.2" cy="357.0" r="30.5" fill="none" stroke="#7f867e" stroke-width="1.1"/>
<circle cx="798.2" cy="357.0" r="29.5" fill="#bcc2b8"/>
<circle cx="798.2" cy="357.0" r="26" fill="url(#lq0)" stroke="#737a71" stroke-width="1.3"/>
<circle cx="798.2" cy="357.0" r="36" fill="none" stroke="url(#ghl)" stroke-width="4"/>
<path d="M782.1 367.9 Q798.2 379.9 814.3 367.9" stroke="#ffffff" stroke-opacity="0.42" stroke-width="4" fill="none"/>
<path d="M783.9 348.7 Q798.2 338.3 812.5 348.7" stroke="#ffffff" stroke-opacity="0.35" stroke-width="3.5" fill="none"/>
<line x1="793.2" y1="349.2" x2="803.2" y2="349.2" stroke="#ffffff" stroke-opacity="0.5" stroke-width="1.6" stroke-dasharray="2 2"/>
<line x1="791.2" y1="362.7" x2="805.2" y2="362.7" stroke="#ffffff" stroke-opacity="0.5" stroke-width="1.6" stroke-dasharray="2 1.5"/>
<circle cx="182.2" cy="445.9" r="41" fill="url(#gring)" stroke="#858d86" stroke-width="1.3"/>
<circle cx="182.2" cy="445.9" r="30.5" fill="none" stroke="#7f867e" stroke-width="1.1"/>
<circle cx="182.2" cy="445.9" r="29.5" fill="#bcc2b8"/>
<circle cx="182.2" cy="445.9" r="26" fill="url(#lq0)" stroke="#737a71" stroke-width="1.3"/>
<circle cx="182.2" cy="445.9" r="36" fill="none" stroke="url(#ghl)" stroke-width="4"/>
<path d="M166.1 456.8 Q182.2 468.8 198.3 456.8" stroke="#ffffff" stroke-opacity="0.42" stroke-width="4" fill="none"/>
<path d="M167.9 437.6 Q182.2 427.2 196.5 437.6" stroke="#ffffff" stroke-opacity="0.35" stroke-width="3.5" fill="none"/>
<line x1="177.2" y1="438.1" x2="187.2" y2="438.1" stroke="#ffffff" stroke-opacity="0.5" stroke-width="1.6" stroke-dasharray="2 2"/>
<line x1="175.2" y1="451.6" x2="189.2" y2="451.6" stroke="#ffffff" stroke-opacity="0.5" stroke-width="1.6" stroke-dasharray="2 1.5"/>
<circle cx="270.2" cy="445.9" r="41" fill="url(#gring)" stroke="#858d86" stroke-width="1.3"/>
<circle cx="270.2" cy="445.9" r="30.5" fill="none" stroke="#7f867e" stroke-width="1.1"/>
<circle cx="270.2" cy="445.9" r="29.5" fill="#bcc2b8"/>
<circle cx="270.2" cy="445.9" r="26" fill="url(#lq0)" stroke="#737a71" stroke-width="1.3"/>
<circle cx="270.2" cy="445.9" r="36" fill="none" stroke="url(#ghl)" stroke-width="4"/>
<path d="M254.1 456.8 Q270.2 468.8 286.3 456.8" stroke="#ffffff" stroke-opacity="0.42" stroke-width="4" fill="none"/>
<path d="M255.9 437.6 Q270.2 427.2 284.5 437.6" stroke="#ffffff" stroke-opacity="0.35" stroke-width="3.5" fill="none"/>
<line x1="265.2" y1="438.1" x2="275.2" y2="438.1" stroke="#ffffff" stroke-opacity="0.5" stroke-width="1.6" stroke-dasharray="2 2"/>
<line x1="263.2" y1="451.6" x2="277.2" y2="451.6" stroke="#ffffff" stroke-opacity="0.5" stroke-width="1.6" stroke-dasharray="2 1.5"/>
<circle cx="358.2" cy="445.9" r="41" fill="url(#gring)" stroke="#858d86" stroke-width="1.3"/>
<circle cx="358.2" cy="445.9" r="30.5" fill="none" stroke="#7f867e" stroke-width="1.1"/>
<circle cx="358.2" cy="445.9" r="29.5" fill="#bcc2b8"/>
<circle cx="358.2" cy="445.9" r="29.5" fill="url(#lq1)" stroke="#737a71" stroke-width="1.3"/>
<circle cx="358.2" cy="445.9" r="36" fill="none" stroke="url(#ghl)" stroke-width="4"/>
<path d="M342.1 456.8 Q358.2 468.8 374.3 456.8" stroke="#ffffff" stroke-opacity="0.42" stroke-width="4" fill="none"/>
<path d="M343.9 437.6 Q358.2 427.2 372.5 437.6" stroke="#ffffff" stroke-opacity="0.35" stroke-width="3.5" fill="none"/>
<line x1="353.2" y1="438.1" x2="363.2" y2="438.1" stroke="#ffffff" stroke-opacity="0.5" stroke-width="1.6" stroke-dasharray="2 2"/>
<line x1="351.2" y1="451.6" x2="365.2" y2="451.6" stroke="#ffffff" stroke-opacity="0.5" stroke-width="1.6" stroke-dasharray="2 1.5"/>
<circle cx="446.2" cy="445.9" r="41" fill="url(#gring)" stroke="#858d86" stroke-width="1.3"/>
<circle cx="446.2" cy="445.9" r="30.5" fill="none" stroke="#7f867e" stroke-width="1.1"/>
<circle cx="446.2" cy="445.9" r="29.5" fill="#bcc2b8"/>
<circle cx="446.2" cy="445.9" r="26" fill="url(#lq0)" stroke="#737a71" stroke-width="1.3"/>
<circle cx="446.2" cy="445.9" r="36" fill="none" stroke="url(#ghl)" stroke-width="4"/>
<path d="M430.1 456.8 Q446.2 468.8 462.3 456.8" stroke="#ffffff" stroke-opacity="0.42" stroke-width="4" fill="none"/>
<path d="M431.9 437.6 Q446.2 427.2 460.5 437.6" stroke="#ffffff" stroke-opacity="0.35" stroke-width="3.5" fill="none"/>
<line x1="441.2" y1="438.1" x2="451.2" y2="438.1" stroke="#ffffff" stroke-opacity="0.5" stroke-width="1.6" stroke-dasharray="2 2"/>
<line x1="439.2" y1="451.6" x2="453.2" y2="451.6" stroke="#ffffff" stroke-opacity="0.5" stroke-width="1.6" stroke-dasharray="2 1.5"/>
<circle cx="534.2" cy="445.9" r="41" fill="url(#gring)" stroke="#858d86" stroke-width="1.3"/>
<circle cx="534.2" cy="445.9" r="30.5" fill="none" stroke="#7f867e" stroke-width="1.1"/>
<circle cx="534.2" cy="445.9" r="29.5" fill="#bcc2b8"/>
<circle cx="534.2" cy="445.9" r="26" fill="url(#lq2)" stroke="#737a71" stroke-width="1.3"/>
<circle cx="534.2" cy="445.9" r="36" fill="none" stroke="url(#ghl)" stroke-width="4"/>
<path d="M518.1 456.8 Q534.2 468.8 550.3 456.8" stroke="#ffffff" stroke-opacity="0.42" stroke-width="4" fill="none"/>
<path d="M519.9 437.6 Q534.2 427.2 548.5 437.6" stroke="#ffffff" stroke-opacity="0.35" stroke-width="3.5" fill="none"/>
<line x1="529.2" y1="438.1" x2="539.2" y2="438.1" stroke="#ffffff" stroke-opacity="0.5" stroke-width="1.6" stroke-dasharray="2 2"/>
<line x1="527.2" y1="451.6" x2="541.2" y2="451.6" stroke="#ffffff" stroke-opacity="0.5" stroke-width="1.6" stroke-dasharray="2 1.5"/>
<circle cx="622.2" cy="445.9" r="41" fill="url(#gring)" stroke="#858d86" stroke-width="1.3"/>
<circle cx="622.2" cy="445.9" r="30.5" fill="none" stroke="#7f867e" stroke-width="1.1"/>
<circle cx="622.2" cy="445.9" r="29.5" fill="#bcc2b8"/>
<circle cx="622.2" cy="445.9" r="26" fill="url(#lq0)" stroke="#737a71" stroke-width="1.3"/>
<circle cx="622.2" cy="445.9" r="36" fill="none" stroke="url(#ghl)" stroke-width="4"/>
<path d="M606.1 456.8 Q622.2 468.8 638.3 456.8" stroke="#ffffff" stroke-opacity="0.42" stroke-width="4" fill="none"/>
<path d="M607.9 437.6 Q622.2 427.2 636.5 437.6" stroke="#ffffff" stroke-opacity="0.35" stroke-width="3.5" fill="none"/>
<line x1="617.2" y1="438.1" x2="627.2" y2="438.1" stroke="#ffffff" stroke-opacity="0.5" stroke-width="1.6" stroke-dasharray="2 2"/>
<line x1="615.2" y1="451.6" x2="629.2" y2="451.6" stroke="#ffffff" stroke-opacity="0.5" stroke-width="1.6" stroke-dasharray="2 1.5"/>
<circle cx="710.2" cy="445.9" r="41" fill="url(#gring)" stroke="#858d86" stroke-width="1.3"/>
<circle cx="710.2" cy="445.9" r="30.5" fill="none" stroke="#7f867e" stroke-width="1.1"/>
<circle cx="710.2" cy="445.9" r="29.5" fill="#bcc2b8"/>
<circle cx="710.2" cy="445.9" r="26" fill="url(#lq0)" stroke="#737a71" stroke-width="1.3"/>
<circle cx="710.2" cy="445.9" r="36" fill="none" stroke="url(#ghl)" stroke-width="4"/>
<path d="M694.1 456.8 Q710.2 468.8 726.3 456.8" stroke="#ffffff" stroke-opacity="0.42" stroke-width="4" fill="none"/>
<path d="M695.9 437.6 Q710.2 427.2 724.5 437.6" stroke="#ffffff" stroke-opacity="0.35" stroke-width="3.5" fill="none"/>
<line x1="705.2" y1="438.1" x2="715.2" y2="438.1" stroke="#ffffff" stroke-opacity="0.5" stroke-width="1.6" stroke-dasharray="2 2"/>
<line x1="703.2" y1="451.6" x2="717.2" y2="451.6" stroke="#ffffff" stroke-opacity="0.5" stroke-width="1.6" stroke-dasharray="2 1.5"/>
<circle cx="798.2" cy="445.9" r="41" fill="url(#gring)" stroke="#858d86" stroke-width="1.3"/>
<circle cx="798.2" cy="445.9" r="30.5" fill="none" stroke="#7f867e" stroke-width="1.1"/>
<circle cx="798.2" cy="445.9" r="29.5" fill="#bcc2b8"/>
<circle cx="798.2" cy="445.9" r="26" fill="url(#lq0)" stroke="#737a71" stroke-width="1.3"/>
<circle cx="798.2" cy="445.9" r="36" fill="none" stroke="url(#ghl)" stroke-width="4"/>
<path d="M782.1 456.8 Q798.2 468.8 814.3 456.8" stroke="#ffffff" stroke-opacity="0.42" stroke-width="4" fill="none"/>
<path d="M783.9 437.6 Q798.2 427.2 812.5 437.6" stroke="#ffffff" stroke-opacity="0.35" stroke-width="3.5" fill="none"/>
<line x1="793.2" y1="438.1" x2="803.2" y2="438.1" stroke="#ffffff" stroke-opacity="0.5" stroke-width="1.6" stroke-dasharray="2 2"/>
<line x1="791.2" y1="451.6" x2="805.2" y2="451.6" stroke="#ffffff" stroke-opacity="0.5" stroke-width="1.6" stroke-dasharray="2 1.5"/>
<circle cx="182.2" cy="534.8" r="41" fill="url(#gring)" stroke="#858d86" stroke-width="1.3"/>
<circle cx="182.2" cy="534.8" r="30.5" fill="none" stroke="#7f867e" stroke-width="1.1"/>
<circle cx="182.2" cy="534.8" r="29.5" fill="#bcc2b8"/>
<circle cx="182.2" cy="534.8" r="26" fill="url(#lq0)" stroke="#737a71" stroke-width="1.3"/>
<circle cx="182.2" cy="534.8" r="36" fill="none" stroke="url(#ghl)" stroke-width="4"/>
<path d="M166.1 545.7 Q182.2 557.7 198.3 545.7" stroke="#ffffff" stroke-opacity="0.42" stroke-width="4" fill="none"/>
<path d="M167.9 526.5 Q182.2 516.1 196.5 526.5" stroke="#ffffff" stroke-opacity="0.35" stroke-width="3.5" fill="none"/>
<line x1="177.2" y1="527.0" x2="187.2" y2="527.0" stroke="#ffffff" stroke-opacity="0.5" stroke-width="1.6" stroke-dasharray="2 2"/>
<line x1="175.2" y1="540.5" x2="189.2" y2="540.5" stroke="#ffffff" stroke-opacity="0.5" stroke-width="1.6" stroke-dasharray="2 1.5"/>
<circle cx="270.2" cy="534.8" r="41" fill="url(#gring)" stroke="#858d86" stroke-width="1.3"/>
<circle cx="270.2" cy="534.8" r="30.5" fill="none" stroke="#7f867e" stroke-width="1.1"/>
<circle cx="270.2" cy="534.8" r="29.5" fill="#bcc2b8"/>
<circle cx="270.2" cy="534.8" r="26" fill="url(#lq0)" stroke="#737a71" stroke-width="1.3"/>
<circle cx="270.2" cy="534.8" r="36" fill="none" stroke="url(#ghl)" stroke-width="4"/>
<path d="M254.1 545.7 Q270.2 557.7 286.3 545.7" stroke="#ffffff" stroke-opacity="0.42" stroke-width="4" fill="none"/>
<path d="M255.9 526.5 Q270.2 516.1 284.5 526.5" stroke="#ffffff" stroke-opacity="0.35" stroke-width="3.5" fill="none"/>
<line x1="265.2" y1="527.0" x2="275.2" y2="527.0" stroke="#ffffff" stroke-opacity="0.5" stroke-width="1.6" stroke-dasharray="2 2"/>
<line x1="263.2" y1="540.5" x2="277.2" y2="540.5" stroke="#ffffff" stroke-opacity="0.5" stroke-width="1.6" stroke-dasharray="2 1.5"/>
<circle cx="358.2" cy="534.8" r="41" fill="url(#gring)" stroke="#858d86" stroke-width="1.3"/>
<circle cx="358.2" cy="534.8" r="30.5" fill="none" stroke="#7f867e" stroke-width="1.1"/>
<circle cx="358.2" cy="534.8" r="29.5" fill="#bcc2b8"/>
<circle cx="358.2" cy="534.8" r="29.5" fill="url(#lq1)" stroke="#737a71" stroke-width="1.3"/>
<circle cx="358.2" cy="534.8" r="36" fill="none" stroke="url(#ghl)" stroke-width="4"/>
<path d="M342.1 545.7 Q358.2 557.7 374.3 545.7" stroke="#ffffff" stroke-opacity="0.42" stroke-width="4" fill="none"/>
<path d="M343.9 526.5 Q358.2 516.1 372.5 526.5" stroke="#ffffff" stroke-opacity="0.35" stroke-width="3.5" fill="none"/>
<line x1="353.2" y1="527.0" x2="363.2" y2="527.0" stroke="#ffffff" stroke-opacity="0.5" stroke-width="1.6" stroke-dasharray="2 2"/>
<line x1="351.2" y1="540.5" x2="365.2" y2="540.5" stroke="#ffffff" stroke-opacity="0.5" stroke-width="1.6" stroke-dasharray="2 1.5"/>
<circle cx="446.2" cy="534.8" r="41" fill="url(#gring)" stroke="#858d86" stroke-width="1.3"/>
<circle cx="446.2" cy="534.8" r="30.5" fill="none" stroke="#7f867e" stroke-width="1.1"/>
<circle cx="446.2" cy="534.8" r="29.5" fill="#bcc2b8"/>
<circle cx="446.2" cy="534.8" r="26" fill="url(#lq0)" stroke="#737a71" stroke-width="1.3"/>
<circle cx="446.2" cy="534.8" r="36" fill="none" stroke="url(#ghl)" stroke-width="4"/>
<path d="M430.1 545.7 Q446.2 557.7 462.3 545.7" stroke="#ffffff" stroke-opacity="0.42" stroke-width="4" fill="none"/>
<path d="M431.9 526.5 Q446.2 516.1 460.5 526.5" stroke="#ffffff" stroke-opacity="0.35" stroke-width="3.5" fill="none"/>
<line x1="441.2" y1="527.0" x2="451.2" y2="527.0" stroke="#ffffff" stroke-opacity="0.5" stroke-width="1.6" stroke-dasharray="2 2"/>
<line x1="439.2" y1="540.5" x2="453.2" y2="540.5" stroke="#ffffff" stroke-opacity="0.5" stroke-width="1.6" stroke-dasharray="2 1.5"/>
<circle cx="534.2" cy="534.8" r="41" fill="url(#gring)" stroke="#858d86" stroke-width="1.3"/>
<circle cx="534.2" cy="534.8" r="30.5" fill="none" stroke="#7f867e" stroke-width="1.1"/>
<circle cx="534.2" cy="534.8" r="29.5" fill="#bcc2b8"/>
<circle cx="534.2" cy="534.8" r="29.5" fill="url(#lq3)" stroke="#737a71" stroke-width="1.3"/>
<circle cx="534.2" cy="534.8" r="36" fill="none" stroke="url(#ghl)" stroke-width="4"/>
<path d="M518.1 545.7 Q534.2 557.7 550.3 545.7" stroke="#ffffff" stroke-opacity="0.42" stroke-width="4" fill="none"/>
<path d="M519.9 526.5 Q534.2 516.1 548.5 526.5" stroke="#ffffff" stroke-opacity="0.35" stroke-width="3.5" fill="none"/>
<line x1="529.2" y1="527.0" x2="539.2" y2="527.0" stroke="#ffffff" stroke-opacity="0.5" stroke-width="1.6" stroke-dasharray="2 2"/>
<line x1="527.2" y1="540.5" x2="541.2" y2="540.5" stroke="#ffffff" stroke-opacity="0.5" stroke-width="1.6" stroke-dasharray="2 1.5"/>
<circle cx="622.2" cy="534.8" r="41" fill="url(#gring)" stroke="#858d86" stroke-width="1.3"/>
<circle cx="622.2" cy="534.8" r="30.5" fill="none" stroke="#7f867e" stroke-width="1.1"/>
<circle cx="622.2" cy="534.8" r="29.5" fill="#bcc2b8"/>
<circle cx="622.2" cy="534.8" r="26" fill="url(#lq0)" stroke="#737a71" stroke-width="1.3"/>
<circle cx="622.2" cy="534.8" r="36" fill="none" stroke="url(#ghl)" stroke-width="4"/>
<path d="M606.1 545.7 Q622.2 557.7 638.3 545.7" stroke="#ffffff" stroke-opacity="0.42" stroke-width="4" fill="none"/>
<path d="M607.9 526.5 Q622.2 516.1 636.5 526.5" stroke="#ffffff" stroke-opacity="0.35" stroke-width="3.5" fill="none"/>
<line x1="617.2" y1="527.0" x2="627.2" y2="527.0" stroke="#ffffff" stroke-opacity="0.5" stroke-width="1.6" stroke-dasharray="2 2"/>
<line x1="615.2" y1="540.5" x2="629.2" y2="540.5" stroke="#ffffff" stroke-opacity="0.5" stroke-width="1.6" stroke-dasharray="2 1.5"/>
<circle cx="710.2" cy="534.8" r="41" fill="url(#gring)" stroke="#858d86" stroke-width="1.3"/>
<circle cx="710.2" cy="534.8" r="30.5" fill="none" stroke="#7f867e" stroke-width="1.1"/>
<circle cx="710.2" cy="534.8" r="29.5" fill="#bcc2b8"/>
<circle cx="710.2" cy="534.8" r="26" fill="url(#lq0)" stroke="#737a71" stroke-width="1.3"/>
<circle cx="710.2" cy="534.8" r="36" fill="none" stroke="url(#ghl)" stroke-width="4"/>
<path d="M694.1 545.7 Q710.2 557.7 726.3 545.7" stroke="#ffffff" stroke-opacity="0.42" stroke-width="4" fill="none"/>
<path d="M695.9 526.5 Q710.2 516.1 724.5 526.5" stroke="#ffffff" stroke-opacity="0.35" stroke-width="3.5" fill="none"/>
<line x1="705.2" y1="527.0" x2="715.2" y2="527.0" stroke="#ffffff" stroke-opacity="0.5" stroke-width="1.6" stroke-dasharray="2 2"/>
<line x1="703.2" y1="540.5" x2="717.2" y2="540.5" stroke="#ffffff" stroke-opacity="0.5" stroke-width="1.6" stroke-dasharray="2 1.5"/>
<circle cx="798.2" cy="534.8" r="41" fill="url(#gring)" stroke="#858d86" stroke-width="1.3"/>
<circle cx="798.2" cy="534.8" r="30.5" fill="none" stroke="#7f867e" stroke-width="1.1"/>
<circle cx="798.2" cy="534.8" r="29.5" fill="#bcc2b8"/>
<circle cx="798.2" cy="534.8" r="26" fill="url(#lq0)" stroke="#737a71" stroke-width="1.3"/>
<circle cx="798.2" cy="534.8" r="36" fill="none" stroke="url(#ghl)" stroke-width="4"/>
<path d="M782.1 545.7 Q798.2 557.7 814.3 545.7" stroke="#ffffff" stroke-opacity="0.42" stroke-width="4" fill="none"/>
<path d="M783.9 526.5 Q798.2 516.1 812.5 526.5" stroke="#ffffff" stroke-opacity="0.35" stroke-width="3.5" fill="none"/>
<line x1="793.2" y1="527.0" x2="803.2" y2="527.0" stroke="#ffffff" stroke-opacity="0.5" stroke-width="1.6" stroke-dasharray="2 2"/>
<line x1="791.2" y1="540.5" x2="805.2" y2="540.5" stroke="#ffffff" stroke-opacity="0.5" stroke-width="1.6" stroke-dasharray="2 1.5"/>
<circle cx="182.2" cy="623.7" r="41" fill="url(#gring)" stroke="#858d86" stroke-width="1.3"/>
<circle cx="182.2" cy="623.7" r="30.5" fill="none" stroke="#7f867e" stroke-width="1.1"/>
<circle cx="182.2" cy="623.7" r="29.5" fill="#bcc2b8"/>
<circle cx="182.2" cy="623.7" r="26" fill="url(#lq0)" stroke="#737a71" stroke-width="1.3"/>
<circle cx="182.2" cy="623.7" r="36" fill="none" stroke="url(#ghl)" stroke-width="4"/>
<path d="M166.1 634.6 Q182.2 646.6 198.3 634.6" stroke="#ffffff" stroke-opacity="0.42" stroke-width="4" fill="none"/>
<path d="M167.9 615.4 Q182.2 605.0 196.5 615.4" stroke="#ffffff" stroke-opacity="0.35" stroke-width="3.5" fill="none"/>
<line x1="177.2" y1="615.9" x2="187.2" y2="615.9" stroke="#ffffff" stroke-opacity="0.5" stroke-width="1.6" stroke-dasharray="2 2"/>
<line x1="175.2" y1="629.4" x2="189.2" y2="629.4" stroke="#ffffff" stroke-opacity="0.5" stroke-width="1.6" stroke-dasharray="2 1.5"/>
<circle cx="270.2" cy="623.7" r="41" fill="url(#gring)" stroke="#858d86" stroke-width="1.3"/>
<circle cx="270.2" cy="623.7" r="30.5" fill="none" stroke="#7f867e" stroke-width="1.1"/>
<circle cx="270.2" cy="623.7" r="29.5" fill="#bcc2b8"/>
<circle cx="270.2" cy="623.7" r="26" fill="url(#lq0)" stroke="#737a71" stroke-width="1.3"/>
<circle cx="270.2" cy="623.7" r="36" fill="none" stroke="url(#ghl)" stroke-width="4"/>
<path d="M254.1 634.6 Q270.2 646.6 286.3 634.6" stroke="#ffffff" stroke-opacity="0.42" stroke-width="4" fill="none"/>
<path d="M255.9 615.4 Q270.2 605.0 284.5 615.4" stroke="#ffffff" stroke-opacity="0.35" stroke-width="3.5" fill="none"/>
<line x1="265.2" y1="615.9" x2="275.2" y2="615.9" stroke="#ffffff" stroke-opacity="0.5" stroke-width="1.6" stroke-dasharray="2 2"/>
<line x1="263.2" y1="629.4" x2="277.2" y2="629.4" stroke="#ffffff" stroke-opacity="0.5" stroke-width="1.6" stroke-dasharray="2 1.5"/>
<circle cx="358.2" cy="623.7" r="41" fill="url(#gring)" stroke="#858d86" stroke-width="1.3"/>
<circle cx="358.2" cy="623.7" r="30.5" fill="none" stroke="#7f867e" stroke-width="1.1"/>
<circle cx="358.2" cy="623.7" r="29.5" fill="#bcc2b8"/>
<circle cx="358.2" cy="623.7" r="26" fill="url(#lq0)" stroke="#737a71" stroke-width="1.3"/>
<circle cx="358.2" cy="623.7" r="36" fill="none" stroke="url(#ghl)" stroke-width="4"/>
<path d="M342.1 634.6 Q358.2 646.6 374.3 634.6" stroke="#ffffff" stroke-opacity="0.42" stroke-width="4" fill="none"/>
<path d="M343.9 615.4 Q358.2 605.0 372.5 615.4" stroke="#ffffff" stroke-opacity="0.35" stroke-width="3.5" fill="none"/>
<line x1="353.2" y1="615.9" x2="363.2" y2="615.9" stroke="#ffffff" stroke-opacity="0.5" stroke-width="1.6" stroke-dasharray="2 2"/>
<line x1="351.2" y1="629.4" x2="365.2" y2="629.4" stroke="#ffffff" stroke-opacity="0.5" stroke-width="1.6" stroke-dasharray="2 1.5"/>
<circle cx="446.2" cy="623.7" r="41" fill="url(#gring)" stroke="#858d86" stroke-width="1.3"/>
<circle cx="446.2" cy="623.7" r="30.5" fill="none" stroke="#7f867e" stroke-width="1.1"/>
<circle cx="446.2" cy="623.7" r="29.5" fill="#bcc2b8"/>
<circle cx="446.2" cy="623.7" r="26" fill="url(#lq0)" stroke="#737a71" stroke-width="1.3"/>
<circle cx="446.2" cy="623.7" r="36" fill="none" stroke="url(#ghl)" stroke-width="4"/>
<path d="M430.1 634.6 Q446.2 646.6 462.3 634.6" stroke="#ffffff" stroke-opacity="0.42" stroke-width="4" fill="none"/>
<path d="M431.9 615.4 Q446.2 605.0 460.5 615.4" stroke="#ffffff" stroke-opacity="0.35" stroke-width="3.5" fill="none"/>
<line x1="441.2" y1="615.9" x2="451.2" y2="615.9" stroke="#ffffff" stroke-opacity="0.5" stroke-width="1.6" stroke-dasharray="2 2"/>
<line x1="439.2" y1="629.4" x2="453.2" y2="629.4" stroke="#ffffff" stroke-opacity="0.5" stroke-width="1.6" stroke-dasharray="2 1.5"/>
<circle cx="534.2" cy="623.7" r="41" fill="url(#gring)" stroke="#858d86" stroke-width="1.3"/>
<circle cx="534.2" cy="623.7" r="30.5" fill="none" stroke="#7f867e" stroke-width="1.1"/>
<circle cx="534.2" cy="623.7" r="29.5" fill="#bcc2b8"/>
<circle cx="534.2" cy="623.7" r="26" fill="url(#lq2)" stroke="#737a71" stroke-width="1.3"/>
<circle cx="534.2" cy="623.7" r="36" fill="none" stroke="url(#ghl)" stroke-width="4"/>
<path d="M518.1 634.6 Q534.2 646.6 550.3 634.6" stroke="#ffffff" stroke-opacity="0.42" stroke-width="4" fill="none"/>
<path d="M519.9 615.4 Q534.2 605.0 548.5 615.4" stroke="#ffffff" stroke-opacity="0.35" stroke-width="3.5" fill="none"/>
<line x1="529.2" y1="615.9" x2="539.2" y2="615.9" stroke="#ffffff" stroke-opacity="0.5" stroke-width="1.6" stroke-dasharray="2 2"/>
<line x1="527.2" y1="629.4" x2="541.2" y2="629.4" stroke="#ffffff" stroke-opacity="0.5" stroke-width="1.6" stroke-dasharray="2 1.5"/>
<circle cx="622.2" cy="623.7" r="41" fill="url(#gring)" stroke="#858d86" stroke-width="1.3"/>
<circle cx="622.2" cy="623.7" r="30.5" fill="none" stroke="#7f867e" stroke-width="1.1"/>
<circle cx="622.2" cy="623.7" r="29.5" fill="#bcc2b8"/>
<circle cx="622.2" cy="623.7" r="26" fill="url(#lq0)" stroke="#737a71" stroke-width="1.3"/>
<circle cx="622.2" cy="623.7" r="36" fill="none" stroke="url(#ghl)" stroke-width="4"/>
<path d="M606.1 634.6 Q622.2 646.6 638.3 634.6" stroke="#ffffff" stroke-opacity="0.42" stroke-width="4" fill="none"/>
<path d="M607.9 615.4 Q622.2 605.0 636.5 615.4" stroke="#ffffff" stroke-opacity="0.35" stroke-width="3.5" fill="none"/>
<line x1="617.2" y1="615.9" x2="627.2" y2="615.9" stroke="#ffffff" stroke-opacity="0.5" stroke-width="1.6" stroke-dasharray="2 2"/>
<line x1="615.2" y1="629.4" x2="629.2" y2="629.4" stroke="#ffffff" stroke-opacity="0.5" stroke-width="1.6" stroke-dasharray="2 1.5"/>
<circle cx="710.2" cy="623.7" r="41" fill="url(#gring)" stroke="#858d86" stroke-width="1.3"/>
<circle cx="710.2" cy="623.7" r="30.5" fill="none" stroke="#7f867e" stroke-width="1.1"/>
<circle cx="710.2" cy="623.7" r="29.5" fill="#bcc2b8"/>
<circle cx="710.2" cy="623.7" r="26" fill="url(#lq0)" stroke="#737a71" stroke-width="1.3"/>
<circle cx="710.2" cy="623.7" r="36" fill="none" stroke="url(#ghl)" stroke-width="4"/>
<path d="M694.1 634.6 Q710.2 646.6 726.3 634.6" stroke="#ffffff" stroke-opacity="0.42" stroke-width="4" fill="none"/>
<path d="M695.9 615.4 Q710.2 605.0 724.5 615.4" stroke="#ffffff" stroke-opacity="0.35" stroke-width="3.5" fill="none"/>
<line x1="705.2" y1="615.9" x2="715.2" y2="615.9" stroke="#ffffff" stroke-opacity="0.5" stroke-width="1.6" stroke-dasharray="2 2"/>
<line x1="703.2" y1="629.4" x2="717.2" y2="629.4" stroke="#ffffff" stroke-opacity="0.5" stroke-width="1.6" stroke-dasharray="2 1.5"/>
<circle cx="798.2" cy="623.7" r="41" fill="url(#gring)" stroke="#858d86" stroke-width="1.3"/>
<circle cx="798.2" cy="623.7" r="30.5" fill="none" stroke="#7f867e" stroke-width="1.1"/>
<circle cx="798.2" cy="623.7" r="29.5" fill="#bcc2b8"/>
<circle cx="798.2" cy="623.7" r="29.5" fill="url(#lq4)" stroke="#737a71" stroke-width="1.3"/>
<circle cx="798.2" cy="623.7" r="36" fill="none" stroke="url(#ghl)" stroke-width="4"/>
<path d="M782.1 634.6 Q798.2 646.6 814.3 634.6" stroke="#ffffff" stroke-opacity="0.42" stroke-width="4" fill="none"/>
<path d="M783.9 615.4 Q798.2 605.0 812.5 615.4" stroke="#ffffff" stroke-opacity="0.35" stroke-width="3.5" fill="none"/>
<line x1="793.2" y1="615.9" x2="803.2" y2="615.9" stroke="#ffffff" stroke-opacity="0.5" stroke-width="1.6" stroke-dasharray="2 2"/>
<line x1="791.2" y1="629.4" x2="805.2" y2="629.4" stroke="#ffffff" stroke-opacity="0.5" stroke-width="1.6" stroke-dasharray="2 1.5"/>
<circle cx="182.2" cy="712.6" r="41" fill="url(#gring)" stroke="#858d86" stroke-width="1.3"/>
<circle cx="182.2" cy="712.6" r="30.5" fill="none" stroke="#7f867e" stroke-width="1.1"/>
<circle cx="182.2" cy="712.6" r="29.5" fill="#bcc2b8"/>
<circle cx="182.2" cy="712.6" r="26" fill="url(#lq0)" stroke="#737a71" stroke-width="1.3"/>
<circle cx="182.2" cy="712.6" r="36" fill="none" stroke="url(#ghl)" stroke-width="4"/>
<path d="M166.1 723.5 Q182.2 735.5 198.3 723.5" stroke="#ffffff" stroke-opacity="0.42" stroke-width="4" fill="none"/>
<path d="M167.9 704.3 Q182.2 693.9 196.5 704.3" stroke="#ffffff" stroke-opacity="0.35" stroke-width="3.5" fill="none"/>
<line x1="177.2" y1="704.8" x2="187.2" y2="704.8" stroke="#ffffff" stroke-opacity="0.5" stroke-width="1.6" stroke-dasharray="2 2"/>
<line x1="175.2" y1="718.3" x2="189.2" y2="718.3" stroke="#ffffff" stroke-opacity="0.5" stroke-width="1.6" stroke-dasharray="2 1.5"/>
<circle cx="270.2" cy="712.6" r="41" fill="url(#gring)" stroke="#858d86" stroke-width="1.3"/>
<circle cx="270.2" cy="712.6" r="30.5" fill="none" stroke="#7f867e" stroke-width="1.1"/>
<circle cx="270.2" cy="712.6" r="29.5" fill="#bcc2b8"/>
<circle cx="270.2" cy="712.6" r="26" fill="url(#lq0)" stroke="#737a71" stroke-width="1.3"/>
<circle cx="270.2" cy="712.6" r="36" fill="none" stroke="url(#ghl)" stroke-width="4"/>
<path d="M254.1 723.5 Q270.2 735.5 286.3 723.5" stroke="#ffffff" stroke-opacity="0.42" stroke-width="4" fill="none"/>
<path d="M255.9 704.3 Q270.2 693.9 284.5 704.3" stroke="#ffffff" stroke-opacity="0.35" stroke-width="3.5" fill="none"/>
<line x1="265.2" y1="704.8" x2="275.2" y2="704.8" stroke="#ffffff" stroke-opacity="0.5" stroke-width="1.6" stroke-dasharray="2 2"/>
<line x1="263.2" y1="718.3" x2="277.2" y2="718.3" stroke="#ffffff" stroke-opacity="0.5" stroke-width="1.6" stroke-dasharray="2 1.5"/>
<circle cx="358.2" cy="712.6" r="41" fill="url(#gring)" stroke="#858d86" stroke-width="1.3"/>
<circle cx="358.2" cy="712.6" r="30.5" fill="none" stroke="#7f867e" stroke-width="1.1"/>
<circle cx="358.2" cy="712.6" r="29.5" fill="#bcc2b8"/>
<circle cx="358.2" cy="712.6" r="26" fill="url(#lq0)" stroke="#737a71" stroke-width="1.3"/>
<circle cx="358.2" cy="712.6" r="36" fill="none" stroke="url(#ghl)" stroke-width="4"/>
<path d="M342.1 723.5 Q358.2 735.5 374.3 723.5" stroke="#ffffff" stroke-opacity="0.42" stroke-width="4" fill="none"/>
<path d="M343.9 704.3 Q358.2 693.9 372.5 704.3" stroke="#ffffff" stroke-opacity="0.35" stroke-width="3.5" fill="none"/>
<line x1="353.2" y1="704.8" x2="363.2" y2="704.8" stroke="#ffffff" stroke-opacity="0.5" stroke-width="1.6" stroke-dasharray="2 2"/>
<line x1="351.2" y1="718.3" x2="365.2" y2="718.3" stroke="#ffffff" stroke-opacity="0.5" stroke-width="1.6" stroke-dasharray="2 1.5"/>
<circle cx="446.2" cy="712.6" r="41" fill="url(#gring)" stroke="#858d86" stroke-width="1.3"/>
<circle cx="446.2" cy="712.6" r="30.5" fill="none" stroke="#7f867e" stroke-width="1.1"/>
<circle cx="446.2" cy="712.6" r="29.5" fill="#bcc2b8"/>
<circle cx="446.2" cy="712.6" r="26" fill="url(#lq0)" stroke="#737a71" stroke-width="1.3"/>
<circle cx="446.2" cy="712.6" r="36" fill="none" stroke="url(#ghl)" stroke-width="4"/>
<path d="M430.1 723.5 Q446.2 735.5 462.3 723.5" stroke="#ffffff" stroke-opacity="0.42" stroke-width="4" fill="none"/>
<path d="M431.9 704.3 Q446.2 693.9 460.5 704.3" stroke="#ffffff" stroke-opacity="0.35" stroke-width="3.5" fill="none"/>
<line x1="441.2" y1="704.8" x2="451.2" y2="704.8" stroke="#ffffff" stroke-opacity="0.5" stroke-width="1.6" stroke-dasharray="2 2"/>
<line x1="439.2" y1="718.3" x2="453.2" y2="718.3" stroke="#ffffff" stroke-opacity="0.5" stroke-width="1.6" stroke-dasharray="2 1.5"/>
<circle cx="534.2" cy="712.6" r="41" fill="url(#gring)" stroke="#858d86" stroke-width="1.3"/>
<circle cx="534.2" cy="712.6" r="30.5" fill="none" stroke="#7f867e" stroke-width="1.1"/>
<circle cx="534.2" cy="712.6" r="29.5" fill="#bcc2b8"/>
<circle cx="534.2" cy="712.6" r="26" fill="url(#lq0)" stroke="#737a71" stroke-width="1.3"/>
<circle cx="534.2" cy="712.6" r="36" fill="none" stroke="url(#ghl)" stroke-width="4"/>
<path d="M518.1 723.5 Q534.2 735.5 550.3 723.5" stroke="#ffffff" stroke-opacity="0.42" stroke-width="4" fill="none"/>
<path d="M519.9 704.3 Q534.2 693.9 548.5 704.3" stroke="#ffffff" stroke-opacity="0.35" stroke-width="3.5" fill="none"/>
<line x1="529.2" y1="704.8" x2="539.2" y2="704.8" stroke="#ffffff" stroke-opacity="0.5" stroke-width="1.6" stroke-dasharray="2 2"/>
<line x1="527.2" y1="718.3" x2="541.2" y2="718.3" stroke="#ffffff" stroke-opacity="0.5" stroke-width="1.6" stroke-dasharray="2 1.5"/>
<circle cx="622.2" cy="712.6" r="41" fill="url(#gring)" stroke="#858d86" stroke-width="1.3"/>
<circle cx="622.2" cy="712.6" r="30.5" fill="none" stroke="#7f867e" stroke-width="1.1"/>
<circle cx="622.2" cy="712.6" r="29.5" fill="#bcc2b8"/>
<circle cx="622.2" cy="712.6" r="26" fill="url(#lq0)" stroke="#737a71" stroke-width="1.3"/>
<circle cx="622.2" cy="712.6" r="36" fill="none" stroke="url(#ghl)" stroke-width="4"/>
<path d="M606.1 723.5 Q622.2 735.5 638.3 723.5" stroke="#ffffff" stroke-opacity="0.42" stroke-width="4" fill="none"/>
<path d="M607.9 704.3 Q622.2 693.9 636.5 704.3" stroke="#ffffff" stroke-opacity="0.35" stroke-width="3.5" fill="none"/>
<line x1="617.2" y1="704.8" x2="627.2" y2="704.8" stroke="#ffffff" stroke-opacity="0.5" stroke-width="1.6" stroke-dasharray="2 2"/>
<line x1="615.2" y1="718.3" x2="629.2" y2="718.3" stroke="#ffffff" stroke-opacity="0.5" stroke-width="1.6" stroke-dasharray="2 1.5"/>
<circle cx="710.2" cy="712.6" r="41" fill="url(#gring)" stroke="#858d86" stroke-width="1.3"/>
<circle cx="710.2" cy="712.6" r="30.5" fill="none" stroke="#7f867e" stroke-width="1.1"/>
<circle cx="710.2" cy="712.6" r="29.5" fill="#bcc2b8"/>
<circle cx="710.2" cy="712.6" r="26" fill="url(#lq2)" stroke="#737a71" stroke-width="1.3"/>
<circle cx="710.2" cy="712.6" r="36" fill="none" stroke="url(#ghl)" stroke-width="4"/>
<path d="M694.1 723.5 Q710.2 735.5 726.3 723.5" stroke="#ffffff" stroke-opacity="0.42" stroke-width="4" fill="none"/>
<path d="M695.9 704.3 Q710.2 693.9 724.5 704.3" stroke="#ffffff" stroke-opacity="0.35" stroke-width="3.5" fill="none"/>
<line x1="705.2" y1="704.8" x2="715.2" y2="704.8" stroke="#ffffff" stroke-opacity="0.5" stroke-width="1.6" stroke-dasharray="2 2"/>
<line x1="703.2" y1="718.3" x2="717.2" y2="718.3" stroke="#ffffff" stroke-opacity="0.5" stroke-width="1.6" stroke-dasharray="2 1.5"/>
<radialGradient id="lq6" cx="50%" cy="50%" r="50%"><stop offset="0" stop-color="#bbae40"/><stop offset="0.55" stop-color="#b4a83e"/><stop offset="0.85" stop-color="#a89c3a"/><stop offset="1" stop-color="#938932"/></radialGradient>
<circle cx="798.2" cy="712.6" r="41" fill="url(#gring)" stroke="#858d86" stroke-width="1.3"/>
<circle cx="798.2" cy="712.6" r="30.5" fill="none" stroke="#7f867e" stroke-width="1.1"/>
<circle cx="798.2" cy="712.6" r="29.5" fill="#bcc2b8"/>
<circle cx="798.2" cy="712.6" r="29.5" fill="url(#lq6)" stroke="#737a71" stroke-width="1.3"/>
<circle cx="798.2" cy="712.6" r="36" fill="none" stroke="url(#ghl)" stroke-width="4"/>
<path d="M782.1 723.5 Q798.2 735.5 814.3 723.5" stroke="#ffffff" stroke-opacity="0.42" stroke-width="4" fill="none"/>
<path d="M783.9 704.3 Q798.2 693.9 812.5 704.3" stroke="#ffffff" stroke-opacity="0.35" stroke-width="3.5" fill="none"/>
<line x1="793.2" y1="704.8" x2="803.2" y2="704.8" stroke="#ffffff" stroke-opacity="0.5" stroke-width="1.6" stroke-dasharray="2 2"/>
<line x1="791.2" y1="718.3" x2="805.2" y2="718.3" stroke="#ffffff" stroke-opacity="0.5" stroke-width="1.6" stroke-dasharray="2 1.5"/>
<circle cx="182.2" cy="801.5" r="41" fill="url(#gring)" stroke="#858d86" stroke-width="1.3"/>
<circle cx="182.2" cy="801.5" r="30.5" fill="none" stroke="#7f867e" stroke-width="1.1"/>
<circle cx="182.2" cy="801.5" r="29.5" fill="#bcc2b8"/>
<circle cx="182.2" cy="801.5" r="29.5" fill="url(#lq3)" stroke="#737a71" stroke-width="1.3"/>
<circle cx="182.2" cy="801.5" r="36" fill="none" stroke="url(#ghl)" stroke-width="4"/>
<path d="M166.1 812.4 Q182.2 824.4 198.3 812.4" stroke="#ffffff" stroke-opacity="0.42" stroke-width="4" fill="none"/>
<path d="M167.9 793.2 Q182.2 782.8 196.5 793.2" stroke="#ffffff" stroke-opacity="0.35" stroke-width="3.5" fill="none"/>
<line x1="177.2" y1="793.7" x2="187.2" y2="793.7" stroke="#ffffff" stroke-opacity="0.5" stroke-width="1.6" stroke-dasharray="2 2"/>
<line x1="175.2" y1="807.2" x2="189.2" y2="807.2" stroke="#ffffff" stroke-opacity="0.5" stroke-width="1.6" stroke-dasharray="2 1.5"/>
<circle cx="270.2" cy="801.5" r="41" fill="url(#gring)" stroke="#858d86" stroke-width="1.3"/>
<circle cx="270.2" cy="801.5" r="30.5" fill="none" stroke="#7f867e" stroke-width="1.1"/>
<circle cx="270.2" cy="801.5" r="29.5" fill="#bcc2b8"/>
<circle cx="270.2" cy="801.5" r="26" fill="url(#lq2)" stroke="#737a71" stroke-width="1.3"/>
<circle cx="270.2" cy="801.5" r="36" fill="none" stroke="url(#ghl)" stroke-width="4"/>
<path d="M254.1 812.4 Q270.2 824.4 286.3 812.4" stroke="#ffffff" stroke-opacity="0.42" stroke-width="4" fill="none"/>
<path d="M255.9 793.2 Q270.2 782.8 284.5 793.2" stroke="#ffffff" stroke-opacity="0.35" stroke-width="3.5" fill="none"/>
<line x1="265.2" y1="793.7" x2="275.2" y2="793.7" stroke="#ffffff" stroke-opacity="0.5" stroke-width="1.6" stroke-dasharray="2 2"/>
<line x1="263.2" y1="807.2" x2="277.2" y2="807.2" stroke="#ffffff" stroke-opacity="0.5" stroke-width="1.6" stroke-dasharray="2 1.5"/>
<circle cx="358.2" cy="801.5" r="41" fill="url(#gring)" stroke="#858d86" stroke-width="1.3"/>
<circle cx="358.2" cy="801.5" r="30.5" fill="none" stroke="#7f867e" stroke-width="1.1"/>
<circle cx="358.2" cy="801.5" r="29.5" fill="#bcc2b8"/>
<circle cx="358.2" cy="801.5" r="26" fill="url(#lq0)" stroke="#737a71" stroke-width="1.3"/>
<circle cx="358.2" cy="801.5" r="36" fill="none" stroke="url(#ghl)" stroke-width="4"/>
<path d="M342.1 812.4 Q358.2 824.4 374.3 812.4" stroke="#ffffff" stroke-opacity="0.42" stroke-width="4" fill="none"/>
<path d="M343.9 793.2 Q358.2 782.8 372.5 793.2" stroke="#ffffff" stroke-opacity="0.35" stroke-width="3.5" fill="none"/>
<line x1="353.2" y1="793.7" x2="363.2" y2="793.7" stroke="#ffffff" stroke-opacity="0.5" stroke-width="1.6" stroke-dasharray="2 2"/>
<line x1="351.2" y1="807.2" x2="365.2" y2="807.2" stroke="#ffffff" stroke-opacity="0.5" stroke-width="1.6" stroke-dasharray="2 1.5"/>
<circle cx="446.2" cy="801.5" r="41" fill="url(#gring)" stroke="#858d86" stroke-width="1.3"/>
<circle cx="446.2" cy="801.5" r="30.5" fill="none" stroke="#7f867e" stroke-width="1.1"/>
<circle cx="446.2" cy="801.5" r="29.5" fill="#bcc2b8"/>
<circle cx="446.2" cy="801.5" r="26" fill="url(#lq0)" stroke="#737a71" stroke-width="1.3"/>
<circle cx="446.2" cy="801.5" r="36" fill="none" stroke="url(#ghl)" stroke-width="4"/>
<path d="M430.1 812.4 Q446.2 824.4 462.3 812.4" stroke="#ffffff" stroke-opacity="0.42" stroke-width="4" fill="none"/>
<path d="M431.9 793.2 Q446.2 782.8 460.5 793.2" stroke="#ffffff" stroke-opacity="0.35" stroke-width="3.5" fill="none"/>
<line x1="441.2" y1="793.7" x2="451.2" y2="793.7" stroke="#ffffff" stroke-opacity="0.5" stroke-width="1.6" stroke-dasharray="2 2"/>
<line x1="439.2" y1="807.2" x2="453.2" y2="807.2" stroke="#ffffff" stroke-opacity="0.5" stroke-width="1.6" stroke-dasharray="2 1.5"/>
<circle cx="534.2" cy="801.5" r="41" fill="url(#gring)" stroke="#858d86" stroke-width="1.3"/>
<circle cx="534.2" cy="801.5" r="30.5" fill="none" stroke="#7f867e" stroke-width="1.1"/>
<circle cx="534.2" cy="801.5" r="29.5" fill="#bcc2b8"/>
<circle cx="534.2" cy="801.5" r="29.5" fill="url(#lq3)" stroke="#737a71" stroke-width="1.3"/>
<circle cx="534.2" cy="801.5" r="36" fill="none" stroke="url(#ghl)" stroke-width="4"/>
<path d="M518.1 812.4 Q534.2 824.4 550.3 812.4" stroke="#ffffff" stroke-opacity="0.42" stroke-width="4" fill="none"/>
<path d="M519.9 793.2 Q534.2 782.8 548.5 793.2" stroke="#ffffff" stroke-opacity="0.35" stroke-width="3.5" fill="none"/>
<line x1="529.2" y1="793.7" x2="539.2" y2="793.7" stroke="#ffffff" stroke-opacity="0.5" stroke-width="1.6" stroke-dasharray="2 2"/>
<line x1="527.2" y1="807.2" x2="541.2" y2="807.2" stroke="#ffffff" stroke-opacity="0.5" stroke-width="1.6" stroke-dasharray="2 1.5"/>
<circle cx="622.2" cy="801.5" r="41" fill="url(#gring)" stroke="#858d86" stroke-width="1.3"/>
<circle cx="622.2" cy="801.5" r="30.5" fill="none" stroke="#7f867e" stroke-width="1.1"/>
<circle cx="622.2" cy="801.5" r="29.5" fill="#bcc2b8"/>
<circle cx="622.2" cy="801.5" r="29.5" fill="url(#lq1)" stroke="#737a71" stroke-width="1.3"/>
<circle cx="622.2" cy="801.5" r="36" fill="none" stroke="url(#ghl)" stroke-width="4"/>
<path d="M606.1 812.4 Q622.2 824.4 638.3 812.4" stroke="#ffffff" stroke-opacity="0.42" stroke-width="4" fill="none"/>
<path d="M607.9 793.2 Q622.2 782.8 636.5 793.2" stroke="#ffffff" stroke-opacity="0.35" stroke-width="3.5" fill="none"/>
<line x1="617.2" y1="793.7" x2="627.2" y2="793.7" stroke="#ffffff" stroke-opacity="0.5" stroke-width="1.6" stroke-dasharray="2 2"/>
<line x1="615.2" y1="807.2" x2="629.2" y2="807.2" stroke="#ffffff" stroke-opacity="0.5" stroke-width="1.6" stroke-dasharray="2 1.5"/>
<radialGradient id="lq7" cx="50%" cy="50%" r="50%"><stop offset="0" stop-color="#b9ab2a"/><stop offset="0.55" stop-color="#b2a528"/><stop offset="0.85" stop-color="#a69a25"/><stop offset="1" stop-color="#918621"/></radialGradient>
<circle cx="710.2" cy="801.5" r="41" fill="url(#gring)" stroke="#858d86" stroke-width="1.3"/>
<circle cx="710.2" cy="801.5" r="30.5" fill="none" stroke="#7f867e" stroke-width="1.1"/>
<circle cx="710.2" cy="801.5" r="29.5" fill="#bcc2b8"/>
<circle cx="710.2" cy="801.5" r="29.5" fill="url(#lq7)" stroke="#737a71" stroke-width="1.3"/>
<circle cx="710.2" cy="801.5" r="36" fill="none" stroke="url(#ghl)" stroke-width="4"/>
<path d="M694.1 812.4 Q710.2 824.4 726.3 812.4" stroke="#ffffff" stroke-opacity="0.42" stroke-width="4" fill="none"/>
<path d="M695.9 793.2 Q710.2 782.8 724.5 793.2" stroke="#ffffff" stroke-opacity="0.35" stroke-width="3.5" fill="none"/>
<line x1="705.2" y1="793.7" x2="715.2" y2="793.7" stroke="#ffffff" stroke-opacity="0.5" stroke-width="1.6" stroke-dasharray="2 2"/>
<line x1="703.2" y1="807.2" x2="717.2" y2="807.2" stroke="#ffffff" stroke-opacity="0.5" stroke-width="1.6" stroke-dasharray="2 1.5"/>
<circle cx="798.2" cy="801.5" r="41" fill="url(#gring)" stroke="#858d86" stroke-width="1.3"/>
<circle cx="798.2" cy="801.5" r="30.5" fill="none" stroke="#7f867e" stroke-width="1.1"/>
<circle cx="798.2" cy="801.5" r="29.5" fill="#bcc2b8"/>
<circle cx="798.2" cy="801.5" r="26" fill="url(#lq0)" stroke="#737a71" stroke-width="1.3"/>
<circle cx="798.2" cy="801.5" r="36" fill="none" stroke="url(#ghl)" stroke-width="4"/>
<path d="M782.1 812.4 Q798.2 824.4 814.3 812.4" stroke="#ffffff" stroke-opacity="0.42" stroke-width="4" fill="none"/>
<path d="M783.9 793.2 Q798.2 782.8 812.5 793.2" stroke="#ffffff" stroke-opacity="0.35" stroke-width="3.5" fill="none"/>
<line x1="793.2" y1="793.7" x2="803.2" y2="793.7" stroke="#ffffff" stroke-opacity="0.5" stroke-width="1.6" stroke-dasharray="2 2"/>
<line x1="791.2" y1="807.2" x2="805.2" y2="807.2" stroke="#ffffff" stroke-opacity="0.5" stroke-width="1.6" stroke-dasharray="2 1.5"/>
<text x="189.6" y="68.8" font-size="28.5" fill="#fff" text-anchor="middle" textLength="82.0" lengthAdjust="spacingAndGlyphs" transform="rotate(-90 189.6 68.8)">CD200</text>
<text x="272.8" y="67.2" font-size="28.5" fill="#fff" text-anchor="middle" textLength="99.8" lengthAdjust="spacingAndGlyphs" transform="rotate(-90 272.8 67.2)">CD200R</text>
<text x="361.5" y="70.0" font-size="28.5" fill="#fff" text-anchor="middle" textLength="65.0" lengthAdjust="spacingAndGlyphs" transform="rotate(-90 361.5 70)">ACE2</text>
<text x="449.5" y="70.5" font-size="28.5" fill="#fff" text-anchor="middle" textLength="27.8" lengthAdjust="spacingAndGlyphs" transform="rotate(-90 449.5 70.5)">S1</text>
<text x="530.0" y="68.0" font-size="28.5" fill="#fff" text-anchor="middle" textLength="114.5" lengthAdjust="spacingAndGlyphs" transform="rotate(-90 530.0 68)">Spike-full</text>
<text x="631.2" y="68.6" font-size="28.5" fill="#fff" text-anchor="middle" textLength="47.2" lengthAdjust="spacingAndGlyphs" transform="rotate(-90 631.2 68.6)">BSG</text>
<text x="713.8" y="66.7" font-size="28.5" fill="#fff" text-anchor="middle" textLength="111.9" lengthAdjust="spacingAndGlyphs" transform="rotate(-90 713.8 66.7)">BSG-long</text>
<text x="805.5" y="70.4" font-size="28.5" fill="#fff" text-anchor="middle" textLength="46.0" lengthAdjust="spacingAndGlyphs" transform="rotate(-90 805.5 70.4)">Rh5</text>
<text x="73.8" y="190.0" font-size="27.5" fill="#fff" text-anchor="middle" textLength="82.4" lengthAdjust="spacingAndGlyphs">CD200</text>
<text x="73.8" y="280.5" font-size="27.5" fill="#fff" text-anchor="middle" textLength="99.2" lengthAdjust="spacingAndGlyphs">CD200R</text>
<text x="73.8" y="371.2" font-size="27.5" fill="#fff" text-anchor="middle" textLength="64.7" lengthAdjust="spacingAndGlyphs">ACE2</text>
<text x="73.8" y="461.7" font-size="27.5" fill="#fff" text-anchor="middle" textLength="28.2" lengthAdjust="spacingAndGlyphs">S1</text>
<text x="73.8" y="552.7" font-size="27.5" fill="#fff" text-anchor="middle" textLength="114.9" lengthAdjust="spacingAndGlyphs">Spike-full</text>
<text x="73.8" y="643.3" font-size="27.5" fill="#fff" text-anchor="middle" textLength="47.8" lengthAdjust="spacingAndGlyphs">BSG</text>
<text x="73.8" y="733.8" font-size="27.5" fill="#fff" text-anchor="middle" textLength="113.8" lengthAdjust="spacingAndGlyphs">BSG-long</text>
<text x="73.8" y="824.3" font-size="27.5" fill="#fff" text-anchor="middle" textLength="47.1" lengthAdjust="spacingAndGlyphs">Rh5</text>
</g>
<rect x="1046.50" y="95.30" width="755.30" height="767.20" fill="#fefefe" />
<rect x="1142.91" y="97.30" width="90.41" height="91.90" fill="#ff0000" />
<rect x="1709.39" y="97.30" width="90.41" height="91.90" fill="#fffcfc" />
<rect x="1048.50" y="193.20" width="90.41" height="91.90" fill="#ff2510" />
<rect x="1426.15" y="193.20" width="90.41" height="91.90" fill="#fffefd" />
<rect x="1142.91" y="289.10" width="90.41" height="91.90" fill="#fffefe" />
<rect x="1331.74" y="289.10" width="90.41" height="91.90" fill="#ffc2ae" />
<rect x="1426.15" y="289.10" width="90.41" height="91.90" fill="#ffb097" />
<rect x="1237.33" y="385.00" width="90.41" height="91.90" fill="#ff5f3e" />
<rect x="1331.74" y="385.00" width="90.41" height="91.90" fill="#fffefd" />
<rect x="1048.50" y="480.90" width="90.41" height="91.90" fill="#fffefd" />
<rect x="1237.33" y="480.90" width="90.41" height="91.90" fill="#ff6d4c" />
<rect x="1709.39" y="576.80" width="90.41" height="91.90" fill="#ffe7de" />
<rect x="1048.50" y="672.70" width="90.41" height="91.90" fill="#fffbfa" />
<rect x="1614.97" y="672.70" width="90.41" height="91.90" fill="#fffaf8" />
<rect x="1709.39" y="672.70" width="90.41" height="91.90" fill="#ffe4da" />
<rect x="1048.50" y="768.60" width="90.41" height="91.90" fill="#fffbfa" />
<rect x="1520.56" y="768.60" width="90.41" height="91.90" fill="#ffa68b" />
<rect x="1614.97" y="768.60" width="90.41" height="91.90" fill="#ffbfaa" />
<line x1="1046.50" y1="93.90" x2="1046.50" y2="863.90" stroke="#e4e4e4" stroke-width="2.8" />
<line x1="1140.91" y1="93.90" x2="1140.91" y2="863.90" stroke="#e4e4e4" stroke-width="2.8" />
<line x1="1235.33" y1="93.90" x2="1235.33" y2="863.90" stroke="#e4e4e4" stroke-width="2.8" />
<line x1="1329.74" y1="93.90" x2="1329.74" y2="863.90" stroke="#e4e4e4" stroke-width="2.8" />
<line x1="1424.15" y1="93.90" x2="1424.15" y2="863.90" stroke="#e4e4e4" stroke-width="2.8" />
<line x1="1518.56" y1="93.90" x2="1518.56" y2="863.90" stroke="#e4e4e4" stroke-width="2.8" />
<line x1="1612.97" y1="93.90" x2="1612.97" y2="863.90" stroke="#e4e4e4" stroke-width="2.8" />
<line x1="1707.39" y1="93.90" x2="1707.39" y2="863.90" stroke="#e4e4e4" stroke-width="2.8" />
<line x1="1801.80" y1="93.90" x2="1801.80" y2="863.90" stroke="#e4e4e4" stroke-width="2.8" />
<line x1="1046.50" y1="95.30" x2="1801.80" y2="95.30" stroke="#e4e4e4" stroke-width="2.8" />
<line x1="1046.50" y1="191.20" x2="1801.80" y2="191.20" stroke="#e4e4e4" stroke-width="2.8" />
<line x1="1046.50" y1="287.10" x2="1801.80" y2="287.10" stroke="#e4e4e4" stroke-width="2.8" />
<line x1="1046.50" y1="383.00" x2="1801.80" y2="383.00" stroke="#e4e4e4" stroke-width="2.8" />
<line x1="1046.50" y1="478.90" x2="1801.80" y2="478.90" stroke="#e4e4e4" stroke-width="2.8" />
<line x1="1046.50" y1="574.80" x2="1801.80" y2="574.80" stroke="#e4e4e4" stroke-width="2.8" />
<line x1="1046.50" y1="670.70" x2="1801.80" y2="670.70" stroke="#e4e4e4" stroke-width="2.8" />
<line x1="1046.50" y1="766.60" x2="1801.80" y2="766.60" stroke="#e4e4e4" stroke-width="2.8" />
<line x1="1046.50" y1="862.50" x2="1801.80" y2="862.50" stroke="#e4e4e4" stroke-width="2.8" />
<line x1="1093.71" y1="86.80" x2="1093.71" y2="95.30" stroke="#e4e4e4" stroke-width="2.8" />
<line x1="1093.71" y1="862.50" x2="1093.71" y2="871.00" stroke="#e4e4e4" stroke-width="2.8" />
<line x1="1188.12" y1="86.80" x2="1188.12" y2="95.30" stroke="#e4e4e4" stroke-width="2.8" />
<line x1="1188.12" y1="862.50" x2="1188.12" y2="871.00" stroke="#e4e4e4" stroke-width="2.8" />
<line x1="1282.53" y1="86.80" x2="1282.53" y2="95.30" stroke="#e4e4e4" stroke-width="2.8" />
<line x1="1282.53" y1="862.50" x2="1282.53" y2="871.00" stroke="#e4e4e4" stroke-width="2.8" />
<line x1="1376.94" y1="86.80" x2="1376.94" y2="95.30" stroke="#e4e4e4" stroke-width="2.8" />
<line x1="1376.94" y1="862.50" x2="1376.94" y2="871.00" stroke="#e4e4e4" stroke-width="2.8" />
<line x1="1471.36" y1="86.80" x2="1471.36" y2="95.30" stroke="#e4e4e4" stroke-width="2.8" />
<line x1="1471.36" y1="862.50" x2="1471.36" y2="871.00" stroke="#e4e4e4" stroke-width="2.8" />
<line x1="1565.77" y1="86.80" x2="1565.77" y2="95.30" stroke="#e4e4e4" stroke-width="2.8" />
<line x1="1565.77" y1="862.50" x2="1565.77" y2="871.00" stroke="#e4e4e4" stroke-width="2.8" />
<line x1="1660.18" y1="86.80" x2="1660.18" y2="95.30" stroke="#e4e4e4" stroke-width="2.8" />
<line x1="1660.18" y1="862.50" x2="1660.18" y2="871.00" stroke="#e4e4e4" stroke-width="2.8" />
<line x1="1754.59" y1="86.80" x2="1754.59" y2="95.30" stroke="#e4e4e4" stroke-width="2.8" />
<line x1="1754.59" y1="862.50" x2="1754.59" y2="871.00" stroke="#e4e4e4" stroke-width="2.8" />
<line x1="1038.00" y1="143.25" x2="1046.50" y2="143.25" stroke="#e4e4e4" stroke-width="2.8" />
<line x1="1801.80" y1="143.25" x2="1810.30" y2="143.25" stroke="#e4e4e4" stroke-width="2.8" />
<line x1="1038.00" y1="239.15" x2="1046.50" y2="239.15" stroke="#e4e4e4" stroke-width="2.8" />
<line x1="1801.80" y1="239.15" x2="1810.30" y2="239.15" stroke="#e4e4e4" stroke-width="2.8" />
<line x1="1038.00" y1="335.05" x2="1046.50" y2="335.05" stroke="#e4e4e4" stroke-width="2.8" />
<line x1="1801.80" y1="335.05" x2="1810.30" y2="335.05" stroke="#e4e4e4" stroke-width="2.8" />
<line x1="1038.00" y1="430.95" x2="1046.50" y2="430.95" stroke="#e4e4e4" stroke-width="2.8" />
<line x1="1801.80" y1="430.95" x2="1810.30" y2="430.95" stroke="#e4e4e4" stroke-width="2.8" />
<line x1="1038.00" y1="526.85" x2="1046.50" y2="526.85" stroke="#e4e4e4" stroke-width="2.8" />
<line x1="1801.80" y1="526.85" x2="1810.30" y2="526.85" stroke="#e4e4e4" stroke-width="2.8" />
<line x1="1038.00" y1="622.75" x2="1046.50" y2="622.75" stroke="#e4e4e4" stroke-width="2.8" />
<line x1="1801.80" y1="622.75" x2="1810.30" y2="622.75" stroke="#e4e4e4" stroke-width="2.8" />
<line x1="1038.00" y1="718.65" x2="1046.50" y2="718.65" stroke="#e4e4e4" stroke-width="2.8" />
<line x1="1801.80" y1="718.65" x2="1810.30" y2="718.65" stroke="#e4e4e4" stroke-width="2.8" />
<line x1="1038.00" y1="814.55" x2="1046.50" y2="814.55" stroke="#e4e4e4" stroke-width="2.8" />
<line x1="1801.80" y1="814.55" x2="1810.30" y2="814.55" stroke="#e4e4e4" stroke-width="2.8" />
<text x="1089.3" y="72.0" font-size="25" fill="#4d4d4d" text-anchor="middle" font-weight="normal" >CD200</text>
<text x="1189.8" y="72.0" font-size="25" fill="#4d4d4d" text-anchor="middle" font-weight="normal" >CD200R</text>
<text x="1285.0" y="72.5" font-size="25" fill="#4d4d4d" text-anchor="middle" font-weight="normal" >ACE2</text>
<text x="1374.5" y="73.5" font-size="25" fill="#4d4d4d" text-anchor="middle" font-weight="normal" >S1</text>
<text x="1463.4" y="70.5" font-size="25" fill="#4d4d4d" text-anchor="middle" font-weight="normal" >Spike-full</text>
<text x="1563.8" y="71.5" font-size="25" fill="#4d4d4d" text-anchor="middle" font-weight="normal" >BSG</text>
<text x="1657.8" y="72.0" font-size="25" fill="#4d4d4d" text-anchor="middle" font-weight="normal" >BSG-long</text>
<text x="1756.2" y="74.0" font-size="25" fill="#4d4d4d" text-anchor="middle" font-weight="normal" >RH5</text>
<text x="1024.0" y="150.5" font-size="24.3" fill="#4d4d4d" text-anchor="end" font-weight="normal" >CD200</text>
<text x="1024.0" y="246.4" font-size="24.3" fill="#4d4d4d" text-anchor="end" font-weight="normal" >CD200R</text>
<text x="1024.0" y="342.3" font-size="24.3" fill="#4d4d4d" text-anchor="end" font-weight="normal" >ACE2</text>
<text x="1024.0" y="438.2" font-size="24.3" fill="#4d4d4d" text-anchor="end" font-weight="normal" >S1</text>
<text x="1024.0" y="534.1" font-size="24.3" fill="#4d4d4d" text-anchor="end" font-weight="normal" >Spike-full</text>
<text x="1024.0" y="630.0" font-size="24.3" fill="#4d4d4d" text-anchor="end" font-weight="normal" >BSG</text>
<text x="1024.0" y="725.9" font-size="24.3" fill="#4d4d4d" text-anchor="end" font-weight="normal" >BSG-long</text>
<text x="1024.0" y="821.8" font-size="24.3" fill="#4d4d4d" text-anchor="end" font-weight="normal" >RH5</text>
<text x="1420.2" y="21.2" font-size="30.5" fill="#000" text-anchor="middle" font-weight="normal" >Prey</text>
<text x="899.0" y="472.8" font-size="30.5" fill="#000" text-anchor="middle" font-weight="normal" transform="rotate(-90 899 472.8)" >Bait</text>
<text x="1829.5" y="271.8" font-size="30.5" fill="#000" text-anchor="start" font-weight="normal" >Normalized</text>
<text x="1829.5" y="308.2" font-size="30.5" fill="#000" text-anchor="start" font-weight="normal" >absorbance</text>
<linearGradient id="lg1834" x1="0" y1="1" x2="0" y2="0"><stop offset="0.000" stop-color="#ffffff"/><stop offset="0.017" stop-color="#fffcfb"/><stop offset="0.033" stop-color="#fff9f6"/><stop offset="0.050" stop-color="#fff5f2"/><stop offset="0.067" stop-color="#fff2ee"/><stop offset="0.083" stop-color="#ffefe9"/><stop offset="0.100" stop-color="#ffece5"/><stop offset="0.117" stop-color="#ffe9e1"/><stop offset="0.133" stop-color="#ffe6dc"/><stop offset="0.150" stop-color="#ffe2d8"/><stop offset="0.167" stop-color="#ffdfd4"/><stop offset="0.183" stop-color="#ffdcd0"/><stop offset="0.200" stop-color="#ffd9cb"/><stop offset="0.217" stop-color="#ffd6c7"/><stop offset="0.233" stop-color="#ffd2c3"/><stop offset="0.250" stop-color="#ffcfbf"/><stop offset="0.267" stop-color="#ffccbb"/><stop offset="0.283" stop-color="#ffc9b6"/><stop offset="0.300" stop-color="#ffc6b2"/><stop offset="0.317" stop-color="#ffc2ae"/><stop offset="0.333" stop-color="#ffbfaa"/><stop offset="0.350" stop-color="#ffbca6"/><stop offset="0.367" stop-color="#ffb8a2"/><stop offset="0.383" stop-color="#ffb59e"/><stop offset="0.400" stop-color="#ffb299"/><stop offset="0.417" stop-color="#ffaf95"/><stop offset="0.433" stop-color="#ffab91"/><stop offset="0.450" stop-color="#ffa88d"/><stop offset="0.467" stop-color="#ffa589"/><stop offset="0.483" stop-color="#ffa185"/><stop offset="0.500" stop-color="#ff9e81"/><stop offset="0.517" stop-color="#ff9b7d"/><stop offset="0.533" stop-color="#ff9779"/><stop offset="0.550" stop-color="#ff9475"/><stop offset="0.567" stop-color="#ff9071"/><stop offset="0.583" stop-color="#ff8d6d"/><stop offset="0.600" stop-color="#ff8969"/><stop offset="0.617" stop-color="#ff8665"/><stop offset="0.633" stop-color="#ff8262"/><stop offset="0.650" stop-color="#ff7e5e"/><stop offset="0.667" stop-color="#ff7b5a"/><stop offset="0.683" stop-color="#ff7756"/><stop offset="0.700" stop-color="#ff7352"/><stop offset="0.717" stop-color="#ff6f4e"/><stop offset="0.733" stop-color="#ff6c4a"/><stop offset="0.750" stop-color="#ff6846"/><stop offset="0.767" stop-color="#ff6342"/><stop offset="0.783" stop-color="#ff5f3e"/><stop offset="0.800" stop-color="#ff5b3a"/><stop offset="0.817" stop-color="#ff5736"/><stop offset="0.833" stop-color="#ff5232"/><stop offset="0.850" stop-color="#ff4d2e"/><stop offset="0.867" stop-color="#ff482a"/><stop offset="0.883" stop-color="#ff4326"/><stop offset="0.900" stop-color="#ff3e22"/><stop offset="0.917" stop-color="#ff381d"/><stop offset="0.933" stop-color="#ff3118"/><stop offset="0.950" stop-color="#ff2913"/><stop offset="0.967" stop-color="#ff210d"/><stop offset="0.983" stop-color="#ff1506"/><stop offset="1.000" stop-color="#ff0000"/></linearGradient>
<rect x="1834.50" y="323.00" width="74.50" height="380.70" fill="url(#lg1834)" />
<text x="1922.0" y="712.6" font-size="21.5" fill="#000" text-anchor="start" font-weight="normal" >0.0</text>
<line x1="1834.50" y1="640.25" x2="1849.40" y2="640.25" stroke="#ffffff" stroke-width="1.3" stroke-opacity="0.8"/>
<line x1="1894.10" y1="640.25" x2="1909.00" y2="640.25" stroke="#ffffff" stroke-width="1.3" stroke-opacity="0.8"/>
<text x="1922.0" y="649.2" font-size="21.5" fill="#000" text-anchor="start" font-weight="normal" >0.1</text>
<line x1="1834.50" y1="576.80" x2="1849.40" y2="576.80" stroke="#ffffff" stroke-width="1.3" stroke-opacity="0.8"/>
<line x1="1894.10" y1="576.80" x2="1909.00" y2="576.80" stroke="#ffffff" stroke-width="1.3" stroke-opacity="0.8"/>
<text x="1922.0" y="585.7" font-size="21.5" fill="#000" text-anchor="start" font-weight="normal" >0.2</text>
<line x1="1834.50" y1="513.35" x2="1849.40" y2="513.35" stroke="#ffffff" stroke-width="1.3" stroke-opacity="0.8"/>
<line x1="1894.10" y1="513.35" x2="1909.00" y2="513.35" stroke="#ffffff" stroke-width="1.3" stroke-opacity="0.8"/>
<text x="1922.0" y="522.3" font-size="21.5" fill="#000" text-anchor="start" font-weight="normal" >0.3</text>
<line x1="1834.50" y1="449.90" x2="1849.40" y2="449.90" stroke="#ffffff" stroke-width="1.3" stroke-opacity="0.8"/>
<line x1="1894.10" y1="449.90" x2="1909.00" y2="449.90" stroke="#ffffff" stroke-width="1.3" stroke-opacity="0.8"/>
<text x="1922.0" y="458.8" font-size="21.5" fill="#000" text-anchor="start" font-weight="normal" >0.4</text>
<line x1="1834.50" y1="386.45" x2="1849.40" y2="386.45" stroke="#ffffff" stroke-width="1.3" stroke-opacity="0.8"/>
<line x1="1894.10" y1="386.45" x2="1909.00" y2="386.45" stroke="#ffffff" stroke-width="1.3" stroke-opacity="0.8"/>
<text x="1922.0" y="395.4" font-size="21.5" fill="#000" text-anchor="start" font-weight="normal" >0.5</text>
<text x="18.0" y="974.8" font-size="87.5" fill="#000" text-anchor="start" font-weight="bold" transform="translate(18 974.8) scale(0.927 1) translate(-18 -974.8)" >b</text>
<rect x="180.70" y="891.40" width="354.30" height="126.00" fill="#7f7f7f" />
<rect x="85.70" y="1015.90" width="109.30" height="340.00" fill="#7f7f7f" />
<rect x="195.00" y="1017.00" width="340.00" height="339.00" fill="#b3bbba" />
<rect x="229.2" y="1014.5" width="12" height="14" fill="#c6ccc7" stroke="#8f978f" stroke-width="0.8"/>
<rect x="311.9" y="1014.5" width="12" height="14" fill="#c6ccc7" stroke="#8f978f" stroke-width="0.8"/>
<rect x="393.6" y="1014.5" width="12" height="14" fill="#c6ccc7" stroke="#8f978f" stroke-width="0.8"/>
<rect x="475.3" y="1014.5" width="12" height="14" fill="#c6ccc7" stroke="#8f978f" stroke-width="0.8"/>
<rect x="229.2" y="1099.1" width="12" height="14" fill="#c6ccc7" stroke="#8f978f" stroke-width="0.8"/>
<rect x="311.9" y="1099.1" width="12" height="14" fill="#c6ccc7" stroke="#8f978f" stroke-width="0.8"/>
<rect x="393.6" y="1099.1" width="12" height="14" fill="#c6ccc7" stroke="#8f978f" stroke-width="0.8"/>
<rect x="475.3" y="1099.1" width="12" height="14" fill="#c6ccc7" stroke="#8f978f" stroke-width="0.8"/>
<rect x="229.2" y="1182.7" width="12" height="14" fill="#c6ccc7" stroke="#8f978f" stroke-width="0.8"/>
<rect x="311.9" y="1182.7" width="12" height="14" fill="#c6ccc7" stroke="#8f978f" stroke-width="0.8"/>
<rect x="393.6" y="1182.7" width="12" height="14" fill="#c6ccc7" stroke="#8f978f" stroke-width="0.8"/>
<rect x="475.3" y="1182.7" width="12" height="14" fill="#c6ccc7" stroke="#8f978f" stroke-width="0.8"/>
<rect x="229.2" y="1265.5" width="12" height="14" fill="#c6ccc7" stroke="#8f978f" stroke-width="0.8"/>
<rect x="311.9" y="1265.5" width="12" height="14" fill="#c6ccc7" stroke="#8f978f" stroke-width="0.8"/>
<rect x="393.6" y="1265.5" width="12" height="14" fill="#c6ccc7" stroke="#8f978f" stroke-width="0.8"/>
<rect x="475.3" y="1265.5" width="12" height="14" fill="#c6ccc7" stroke="#8f978f" stroke-width="0.8"/>
<circle cx="276.5" cy="1103.3" r="7.5" fill="#bac1bc" stroke="#98a09a" stroke-width="1"/>
<circle cx="358.8" cy="1103.3" r="7.5" fill="#bac1bc" stroke="#98a09a" stroke-width="1"/>
<circle cx="440.5" cy="1103.3" r="7.5" fill="#bac1bc" stroke="#98a09a" stroke-width="1"/>
<circle cx="276.5" cy="1187.4" r="7.5" fill="#bac1bc" stroke="#98a09a" stroke-width="1"/>
<circle cx="358.8" cy="1187.4" r="7.5" fill="#bac1bc" stroke="#98a09a" stroke-width="1"/>
<circle cx="440.5" cy="1187.4" r="7.5" fill="#bac1bc" stroke="#98a09a" stroke-width="1"/>
<circle cx="276.5" cy="1270.6" r="7.5" fill="#bac1bc" stroke="#98a09a" stroke-width="1"/>
<circle cx="358.8" cy="1270.6" r="7.5" fill="#bac1bc" stroke="#98a09a" stroke-width="1"/>
<circle cx="440.5" cy="1270.6" r="7.5" fill="#bac1bc" stroke="#98a09a" stroke-width="1"/>
<circle cx="235.2" cy="1061.0" r="38.5" fill="url(#gring)" stroke="#858d86" stroke-width="1.3"/>
<circle cx="235.2" cy="1061.0" r="29.5" fill="none" stroke="#7f867e" stroke-width="1.1"/>
<circle cx="235.2" cy="1061.0" r="28.5" fill="#bcc2b8"/>
<circle cx="235.2" cy="1061.0" r="25" fill="url(#lq0)" stroke="#737a71" stroke-width="1.3"/>
<circle cx="235.2" cy="1061.0" r="33.5" fill="none" stroke="url(#ghl)" stroke-width="4"/>
<path d="M219.7 1071.5 Q235.2 1083.0 250.7 1071.5" stroke="#ffffff" stroke-opacity="0.42" stroke-width="4" fill="none"/>
<path d="M221.4 1053.0 Q235.2 1043.0 248.9 1053.0" stroke="#ffffff" stroke-opacity="0.35" stroke-width="3.5" fill="none"/>
<line x1="230.2" y1="1053.5" x2="240.2" y2="1053.5" stroke="#ffffff" stroke-opacity="0.5" stroke-width="1.6" stroke-dasharray="2 2"/>
<line x1="228.2" y1="1066.5" x2="242.2" y2="1066.5" stroke="#ffffff" stroke-opacity="0.5" stroke-width="1.6" stroke-dasharray="2 1.5"/>
<radialGradient id="lq8" cx="50%" cy="50%" r="50%"><stop offset="0" stop-color="#c6bc7c"/><stop offset="0.55" stop-color="#bfb577"/><stop offset="0.85" stop-color="#b2a96f"/><stop offset="1" stop-color="#9b9461"/></radialGradient>
<circle cx="317.9" cy="1061.0" r="38.5" fill="url(#gring)" stroke="#858d86" stroke-width="1.3"/>
<circle cx="317.9" cy="1061.0" r="29.5" fill="none" stroke="#7f867e" stroke-width="1.1"/>
<circle cx="317.9" cy="1061.0" r="28.5" fill="#bcc2b8"/>
<circle cx="317.9" cy="1061.0" r="28.5" fill="url(#lq8)" stroke="#737a71" stroke-width="1.3"/>
<circle cx="317.9" cy="1061.0" r="33.5" fill="none" stroke="url(#ghl)" stroke-width="4"/>
<path d="M302.4 1071.5 Q317.9 1083.0 333.4 1071.5" stroke="#ffffff" stroke-opacity="0.42" stroke-width="4" fill="none"/>
<path d="M304.1 1053.0 Q317.9 1043.0 331.6 1053.0" stroke="#ffffff" stroke-opacity="0.35" stroke-width="3.5" fill="none"/>
<line x1="312.9" y1="1053.5" x2="322.9" y2="1053.5" stroke="#ffffff" stroke-opacity="0.5" stroke-width="1.6" stroke-dasharray="2 2"/>
<line x1="310.9" y1="1066.5" x2="324.9" y2="1066.5" stroke="#ffffff" stroke-opacity="0.5" stroke-width="1.6" stroke-dasharray="2 1.5"/>
<circle cx="399.6" cy="1061.0" r="38.5" fill="url(#gring)" stroke="#858d86" stroke-width="1.3"/>
<circle cx="399.6" cy="1061.0" r="29.5" fill="none" stroke="#7f867e" stroke-width="1.1"/>
<circle cx="399.6" cy="1061.0" r="28.5" fill="#bcc2b8"/>
<circle cx="399.6" cy="1061.0" r="25" fill="url(#lq0)" stroke="#737a71" stroke-width="1.3"/>
<circle cx="399.6" cy="1061.0" r="33.5" fill="none" stroke="url(#ghl)" stroke-width="4"/>
<path d="M384.1 1071.5 Q399.6 1083.0 415.1 1071.5" stroke="#ffffff" stroke-opacity="0.42" stroke-width="4" fill="none"/>
<path d="M385.9 1053.0 Q399.6 1043.0 413.4 1053.0" stroke="#ffffff" stroke-opacity="0.35" stroke-width="3.5" fill="none"/>
<line x1="394.6" y1="1053.5" x2="404.6" y2="1053.5" stroke="#ffffff" stroke-opacity="0.5" stroke-width="1.6" stroke-dasharray="2 2"/>
<line x1="392.6" y1="1066.5" x2="406.6" y2="1066.5" stroke="#ffffff" stroke-opacity="0.5" stroke-width="1.6" stroke-dasharray="2 1.5"/>
<circle cx="481.3" cy="1061.0" r="38.5" fill="url(#gring)" stroke="#858d86" stroke-width="1.3"/>
<circle cx="481.3" cy="1061.0" r="29.5" fill="none" stroke="#7f867e" stroke-width="1.1"/>
<circle cx="481.3" cy="1061.0" r="28.5" fill="#bcc2b8"/>
<circle cx="481.3" cy="1061.0" r="25" fill="url(#lq0)" stroke="#737a71" stroke-width="1.3"/>
<circle cx="481.3" cy="1061.0" r="33.5" fill="none" stroke="url(#ghl)" stroke-width="4"/>
<path d="M465.8 1071.5 Q481.3 1083.0 496.8 1071.5" stroke="#ffffff" stroke-opacity="0.42" stroke-width="4" fill="none"/>
<path d="M467.6 1053.0 Q481.3 1043.0 495.1 1053.0" stroke="#ffffff" stroke-opacity="0.35" stroke-width="3.5" fill="none"/>
<line x1="476.3" y1="1053.5" x2="486.3" y2="1053.5" stroke="#ffffff" stroke-opacity="0.5" stroke-width="1.6" stroke-dasharray="2 2"/>
<line x1="474.3" y1="1066.5" x2="488.3" y2="1066.5" stroke="#ffffff" stroke-opacity="0.5" stroke-width="1.6" stroke-dasharray="2 1.5"/>
<circle cx="235.2" cy="1145.6" r="38.5" fill="url(#gring)" stroke="#858d86" stroke-width="1.3"/>
<circle cx="235.2" cy="1145.6" r="29.5" fill="none" stroke="#7f867e" stroke-width="1.1"/>
<circle cx="235.2" cy="1145.6" r="28.5" fill="#bcc2b8"/>
<circle cx="235.2" cy="1145.6" r="28.5" fill="url(#lq1)" stroke="#737a71" stroke-width="1.3"/>
<circle cx="235.2" cy="1145.6" r="33.5" fill="none" stroke="url(#ghl)" stroke-width="4"/>
<path d="M219.7 1156.1 Q235.2 1167.6 250.7 1156.1" stroke="#ffffff" stroke-opacity="0.42" stroke-width="4" fill="none"/>
<path d="M221.4 1137.6 Q235.2 1127.6 248.9 1137.6" stroke="#ffffff" stroke-opacity="0.35" stroke-width="3.5" fill="none"/>
<line x1="230.2" y1="1138.1" x2="240.2" y2="1138.1" stroke="#ffffff" stroke-opacity="0.5" stroke-width="1.6" stroke-dasharray="2 2"/>
<line x1="228.2" y1="1151.1" x2="242.2" y2="1151.1" stroke="#ffffff" stroke-opacity="0.5" stroke-width="1.6" stroke-dasharray="2 1.5"/>
<circle cx="317.9" cy="1145.6" r="38.5" fill="url(#gring)" stroke="#858d86" stroke-width="1.3"/>
<circle cx="317.9" cy="1145.6" r="29.5" fill="none" stroke="#7f867e" stroke-width="1.1"/>
<circle cx="317.9" cy="1145.6" r="28.5" fill="#bcc2b8"/>
<circle cx="317.9" cy="1145.6" r="25" fill="url(#lq0)" stroke="#737a71" stroke-width="1.3"/>
<circle cx="317.9" cy="1145.6" r="33.5" fill="none" stroke="url(#ghl)" stroke-width="4"/>
<path d="M302.4 1156.1 Q317.9 1167.6 333.4 1156.1" stroke="#ffffff" stroke-opacity="0.42" stroke-width="4" fill="none"/>
<path d="M304.1 1137.6 Q317.9 1127.6 331.6 1137.6" stroke="#ffffff" stroke-opacity="0.35" stroke-width="3.5" fill="none"/>
<line x1="312.9" y1="1138.1" x2="322.9" y2="1138.1" stroke="#ffffff" stroke-opacity="0.5" stroke-width="1.6" stroke-dasharray="2 2"/>
<line x1="310.9" y1="1151.1" x2="324.9" y2="1151.1" stroke="#ffffff" stroke-opacity="0.5" stroke-width="1.6" stroke-dasharray="2 1.5"/>
<circle cx="399.6" cy="1145.6" r="38.5" fill="url(#gring)" stroke="#858d86" stroke-width="1.3"/>
<circle cx="399.6" cy="1145.6" r="29.5" fill="none" stroke="#7f867e" stroke-width="1.1"/>
<circle cx="399.6" cy="1145.6" r="28.5" fill="#bcc2b8"/>
<circle cx="399.6" cy="1145.6" r="25" fill="url(#lq0)" stroke="#737a71" stroke-width="1.3"/>
<circle cx="399.6" cy="1145.6" r="33.5" fill="none" stroke="url(#ghl)" stroke-width="4"/>
<path d="M384.1 1156.1 Q399.6 1167.6 415.1 1156.1" stroke="#ffffff" stroke-opacity="0.42" stroke-width="4" fill="none"/>
<path d="M385.9 1137.6 Q399.6 1127.6 413.4 1137.6" stroke="#ffffff" stroke-opacity="0.35" stroke-width="3.5" fill="none"/>
<line x1="394.6" y1="1138.1" x2="404.6" y2="1138.1" stroke="#ffffff" stroke-opacity="0.5" stroke-width="1.6" stroke-dasharray="2 2"/>
<line x1="392.6" y1="1151.1" x2="406.6" y2="1151.1" stroke="#ffffff" stroke-opacity="0.5" stroke-width="1.6" stroke-dasharray="2 1.5"/>
<circle cx="481.3" cy="1145.6" r="38.5" fill="url(#gring)" stroke="#858d86" stroke-width="1.3"/>
<circle cx="481.3" cy="1145.6" r="29.5" fill="none" stroke="#7f867e" stroke-width="1.1"/>
<circle cx="481.3" cy="1145.6" r="28.5" fill="#bcc2b8"/>
<circle cx="481.3" cy="1145.6" r="25" fill="url(#lq0)" stroke="#737a71" stroke-width="1.3"/>
<circle cx="481.3" cy="1145.6" r="33.5" fill="none" stroke="url(#ghl)" stroke-width="4"/>
<path d="M465.8 1156.1 Q481.3 1167.6 496.8 1156.1" stroke="#ffffff" stroke-opacity="0.42" stroke-width="4" fill="none"/>
<path d="M467.6 1137.6 Q481.3 1127.6 495.1 1137.6" stroke="#ffffff" stroke-opacity="0.35" stroke-width="3.5" fill="none"/>
<line x1="476.3" y1="1138.1" x2="486.3" y2="1138.1" stroke="#ffffff" stroke-opacity="0.5" stroke-width="1.6" stroke-dasharray="2 2"/>
<line x1="474.3" y1="1151.1" x2="488.3" y2="1151.1" stroke="#ffffff" stroke-opacity="0.5" stroke-width="1.6" stroke-dasharray="2 1.5"/>
<circle cx="235.2" cy="1229.2" r="38.5" fill="url(#gring)" stroke="#858d86" stroke-width="1.3"/>
<circle cx="235.2" cy="1229.2" r="29.5" fill="none" stroke="#7f867e" stroke-width="1.1"/>
<circle cx="235.2" cy="1229.2" r="28.5" fill="#bcc2b8"/>
<circle cx="235.2" cy="1229.2" r="25" fill="url(#lq0)" stroke="#737a71" stroke-width="1.3"/>
<circle cx="235.2" cy="1229.2" r="33.5" fill="none" stroke="url(#ghl)" stroke-width="4"/>
<path d="M219.7 1239.7 Q235.2 1251.2 250.7 1239.7" stroke="#ffffff" stroke-opacity="0.42" stroke-width="4" fill="none"/>
<path d="M221.4 1221.2 Q235.2 1211.2 248.9 1221.2" stroke="#ffffff" stroke-opacity="0.35" stroke-width="3.5" fill="none"/>
<line x1="230.2" y1="1221.7" x2="240.2" y2="1221.7" stroke="#ffffff" stroke-opacity="0.5" stroke-width="1.6" stroke-dasharray="2 2"/>
<line x1="228.2" y1="1234.7" x2="242.2" y2="1234.7" stroke="#ffffff" stroke-opacity="0.5" stroke-width="1.6" stroke-dasharray="2 1.5"/>
<circle cx="317.9" cy="1229.2" r="38.5" fill="url(#gring)" stroke="#858d86" stroke-width="1.3"/>
<circle cx="317.9" cy="1229.2" r="29.5" fill="none" stroke="#7f867e" stroke-width="1.1"/>
<circle cx="317.9" cy="1229.2" r="28.5" fill="#bcc2b8"/>
<circle cx="317.9" cy="1229.2" r="25" fill="url(#lq0)" stroke="#737a71" stroke-width="1.3"/>
<circle cx="317.9" cy="1229.2" r="33.5" fill="none" stroke="url(#ghl)" stroke-width="4"/>
<path d="M302.4 1239.7 Q317.9 1251.2 333.4 1239.7" stroke="#ffffff" stroke-opacity="0.42" stroke-width="4" fill="none"/>
<path d="M304.1 1221.2 Q317.9 1211.2 331.6 1221.2" stroke="#ffffff" stroke-opacity="0.35" stroke-width="3.5" fill="none"/>
<line x1="312.9" y1="1221.7" x2="322.9" y2="1221.7" stroke="#ffffff" stroke-opacity="0.5" stroke-width="1.6" stroke-dasharray="2 2"/>
<line x1="310.9" y1="1234.7" x2="324.9" y2="1234.7" stroke="#ffffff" stroke-opacity="0.5" stroke-width="1.6" stroke-dasharray="2 1.5"/>
<circle cx="399.6" cy="1229.2" r="38.5" fill="url(#gring)" stroke="#858d86" stroke-width="1.3"/>
<circle cx="399.6" cy="1229.2" r="29.5" fill="none" stroke="#7f867e" stroke-width="1.1"/>
<circle cx="399.6" cy="1229.2" r="28.5" fill="#bcc2b8"/>
<circle cx="399.6" cy="1229.2" r="25" fill="url(#lq0)" stroke="#737a71" stroke-width="1.3"/>
<circle cx="399.6" cy="1229.2" r="33.5" fill="none" stroke="url(#ghl)" stroke-width="4"/>
<path d="M384.1 1239.7 Q399.6 1251.2 415.1 1239.7" stroke="#ffffff" stroke-opacity="0.42" stroke-width="4" fill="none"/>
<path d="M385.9 1221.2 Q399.6 1211.2 413.4 1221.2" stroke="#ffffff" stroke-opacity="0.35" stroke-width="3.5" fill="none"/>
<line x1="394.6" y1="1221.7" x2="404.6" y2="1221.7" stroke="#ffffff" stroke-opacity="0.5" stroke-width="1.6" stroke-dasharray="2 2"/>
<line x1="392.6" y1="1234.7" x2="406.6" y2="1234.7" stroke="#ffffff" stroke-opacity="0.5" stroke-width="1.6" stroke-dasharray="2 1.5"/>
<circle cx="481.3" cy="1229.2" r="38.5" fill="url(#gring)" stroke="#858d86" stroke-width="1.3"/>
<circle cx="481.3" cy="1229.2" r="29.5" fill="none" stroke="#7f867e" stroke-width="1.1"/>
<circle cx="481.3" cy="1229.2" r="28.5" fill="#bcc2b8"/>
<circle cx="481.3" cy="1229.2" r="25" fill="url(#lq0)" stroke="#737a71" stroke-width="1.3"/>
<circle cx="481.3" cy="1229.2" r="33.5" fill="none" stroke="url(#ghl)" stroke-width="4"/>
<path d="M465.8 1239.7 Q481.3 1251.2 496.8 1239.7" stroke="#ffffff" stroke-opacity="0.42" stroke-width="4" fill="none"/>
<path d="M467.6 1221.2 Q481.3 1211.2 495.1 1221.2" stroke="#ffffff" stroke-opacity="0.35" stroke-width="3.5" fill="none"/>
<line x1="476.3" y1="1221.7" x2="486.3" y2="1221.7" stroke="#ffffff" stroke-opacity="0.5" stroke-width="1.6" stroke-dasharray="2 2"/>
<line x1="474.3" y1="1234.7" x2="488.3" y2="1234.7" stroke="#ffffff" stroke-opacity="0.5" stroke-width="1.6" stroke-dasharray="2 1.5"/>
<circle cx="235.2" cy="1312.0" r="38.5" fill="url(#gring)" stroke="#858d86" stroke-width="1.3"/>
<circle cx="235.2" cy="1312.0" r="29.5" fill="none" stroke="#7f867e" stroke-width="1.1"/>
<circle cx="235.2" cy="1312.0" r="28.5" fill="#bcc2b8"/>
<circle cx="235.2" cy="1312.0" r="25" fill="url(#lq0)" stroke="#737a71" stroke-width="1.3"/>
<circle cx="235.2" cy="1312.0" r="33.5" fill="none" stroke="url(#ghl)" stroke-width="4"/>
<path d="M219.7 1322.5 Q235.2 1334.0 250.7 1322.5" stroke="#ffffff" stroke-opacity="0.42" stroke-width="4" fill="none"/>
<path d="M221.4 1304.0 Q235.2 1294.0 248.9 1304.0" stroke="#ffffff" stroke-opacity="0.35" stroke-width="3.5" fill="none"/>
<line x1="230.2" y1="1304.5" x2="240.2" y2="1304.5" stroke="#ffffff" stroke-opacity="0.5" stroke-width="1.6" stroke-dasharray="2 2"/>
<line x1="228.2" y1="1317.5" x2="242.2" y2="1317.5" stroke="#ffffff" stroke-opacity="0.5" stroke-width="1.6" stroke-dasharray="2 1.5"/>
<circle cx="317.9" cy="1312.0" r="38.5" fill="url(#gring)" stroke="#858d86" stroke-width="1.3"/>
<circle cx="317.9" cy="1312.0" r="29.5" fill="none" stroke="#7f867e" stroke-width="1.1"/>
<circle cx="317.9" cy="1312.0" r="28.5" fill="#bcc2b8"/>
<circle cx="317.9" cy="1312.0" r="25" fill="url(#lq0)" stroke="#737a71" stroke-width="1.3"/>
<circle cx="317.9" cy="1312.0" r="33.5" fill="none" stroke="url(#ghl)" stroke-width="4"/>
<path d="M302.4 1322.5 Q317.9 1334.0 333.4 1322.5" stroke="#ffffff" stroke-opacity="0.42" stroke-width="4" fill="none"/>
<path d="M304.1 1304.0 Q317.9 1294.0 331.6 1304.0" stroke="#ffffff" stroke-opacity="0.35" stroke-width="3.5" fill="none"/>
<line x1="312.9" y1="1304.5" x2="322.9" y2="1304.5" stroke="#ffffff" stroke-opacity="0.5" stroke-width="1.6" stroke-dasharray="2 2"/>
<line x1="310.9" y1="1317.5" x2="324.9" y2="1317.5" stroke="#ffffff" stroke-opacity="0.5" stroke-width="1.6" stroke-dasharray="2 1.5"/>
<circle cx="399.6" cy="1312.0" r="38.5" fill="url(#gring)" stroke="#858d86" stroke-width="1.3"/>
<circle cx="399.6" cy="1312.0" r="29.5" fill="none" stroke="#7f867e" stroke-width="1.1"/>
<circle cx="399.6" cy="1312.0" r="28.5" fill="#bcc2b8"/>
<circle cx="399.6" cy="1312.0" r="25" fill="url(#lq0)" stroke="#737a71" stroke-width="1.3"/>
<circle cx="399.6" cy="1312.0" r="33.5" fill="none" stroke="url(#ghl)" stroke-width="4"/>
<path d="M384.1 1322.5 Q399.6 1334.0 415.1 1322.5" stroke="#ffffff" stroke-opacity="0.42" stroke-width="4" fill="none"/>
<path d="M385.9 1304.0 Q399.6 1294.0 413.4 1304.0" stroke="#ffffff" stroke-opacity="0.35" stroke-width="3.5" fill="none"/>
<line x1="394.6" y1="1304.5" x2="404.6" y2="1304.5" stroke="#ffffff" stroke-opacity="0.5" stroke-width="1.6" stroke-dasharray="2 2"/>
<line x1="392.6" y1="1317.5" x2="406.6" y2="1317.5" stroke="#ffffff" stroke-opacity="0.5" stroke-width="1.6" stroke-dasharray="2 1.5"/>
<radialGradient id="lq9" cx="50%" cy="50%" r="50%"><stop offset="0" stop-color="#cac6a0"/><stop offset="0.55" stop-color="#c3bf9a"/><stop offset="0.85" stop-color="#b5b290"/><stop offset="1" stop-color="#9f9b7e"/></radialGradient>
<circle cx="481.3" cy="1312.0" r="38.5" fill="url(#gring)" stroke="#858d86" stroke-width="1.3"/>
<circle cx="481.3" cy="1312.0" r="29.5" fill="none" stroke="#7f867e" stroke-width="1.1"/>
<circle cx="481.3" cy="1312.0" r="28.5" fill="#bcc2b8"/>
<circle cx="481.3" cy="1312.0" r="28.5" fill="url(#lq9)" stroke="#737a71" stroke-width="1.3"/>
<circle cx="481.3" cy="1312.0" r="33.5" fill="none" stroke="url(#ghl)" stroke-width="4"/>
<path d="M465.8 1322.5 Q481.3 1334.0 496.8 1322.5" stroke="#ffffff" stroke-opacity="0.42" stroke-width="4" fill="none"/>
<path d="M467.6 1304.0 Q481.3 1294.0 495.1 1304.0" stroke="#ffffff" stroke-opacity="0.35" stroke-width="3.5" fill="none"/>
<line x1="476.3" y1="1304.5" x2="486.3" y2="1304.5" stroke="#ffffff" stroke-opacity="0.5" stroke-width="1.6" stroke-dasharray="2 2"/>
<line x1="474.3" y1="1317.5" x2="488.3" y2="1317.5" stroke="#ffffff" stroke-opacity="0.5" stroke-width="1.6" stroke-dasharray="2 1.5"/>
<text x="242.0" y="955.5" font-size="28.5" fill="#fff" text-anchor="middle" textLength="65.4" lengthAdjust="spacingAndGlyphs" transform="rotate(-90 242 955.5)">ACE2</text>
<text x="301.5" y="957.0" font-size="28.5" fill="#fff" text-anchor="middle" textLength="28.8" lengthAdjust="spacingAndGlyphs" transform="rotate(-90 301.5 957)">S1</text>
<text x="339.0" y="955.6" font-size="28.5" fill="#fff" text-anchor="middle" textLength="83.2" lengthAdjust="spacingAndGlyphs" transform="rotate(-90 339 955.6)">D614G</text>
<text x="404.4" y="957.5" font-size="28.5" fill="#fff" text-anchor="middle" textLength="47.6" lengthAdjust="spacingAndGlyphs" transform="rotate(-90 404.4 957.5)">BSG</text>
<text x="479.4" y="952.7" font-size="28.5" fill="#fff" text-anchor="middle" textLength="57.5" lengthAdjust="spacingAndGlyphs" transform="rotate(-90 479.4 952.7)">BSG-</text>
<text x="517.5" y="954.2" font-size="28.5" fill="#fff" text-anchor="middle" textLength="52.4" lengthAdjust="spacingAndGlyphs" transform="rotate(-90 517.5 954.2)">long</text>
<text x="140.2" y="1070.0" font-size="27.5" fill="#fff" text-anchor="middle" textLength="64.5" lengthAdjust="spacingAndGlyphs">ACE2</text>
<text x="140.2" y="1136.8" font-size="27.5" fill="#fff" text-anchor="middle" textLength="29.3" lengthAdjust="spacingAndGlyphs">S1</text>
<text x="140.2" y="1173.6" font-size="27.5" fill="#fff" text-anchor="middle" textLength="85.6" lengthAdjust="spacingAndGlyphs">D614G</text>
<text x="140.2" y="1238.7" font-size="27.5" fill="#fff" text-anchor="middle" textLength="49.0" lengthAdjust="spacingAndGlyphs">BSG</text>
<text x="140.2" y="1300.4" font-size="27.5" fill="#fff" text-anchor="middle" textLength="58.5" lengthAdjust="spacingAndGlyphs">BSG-</text>
<text x="140.2" y="1336.3" font-size="27.5" fill="#fff" text-anchor="middle" textLength="55.0" lengthAdjust="spacingAndGlyphs">long</text>
<rect x="714.80" y="992.80" width="350.50" height="378.70" fill="#fefefe" />
<rect x="804.42" y="994.80" width="83.62" height="90.68" fill="#ffe1d6" />
<rect x="716.80" y="1089.47" width="83.62" height="90.68" fill="#ff6f4e" />
<rect x="716.80" y="1184.15" width="83.62" height="90.68" fill="#fffefe" />
<rect x="979.67" y="1278.83" width="83.62" height="90.68" fill="#fffbfa" />
<line x1="714.80" y1="991.55" x2="714.80" y2="1372.75" stroke="#e4e4e4" stroke-width="2.5" />
<line x1="802.42" y1="991.55" x2="802.42" y2="1372.75" stroke="#e4e4e4" stroke-width="2.5" />
<line x1="890.05" y1="991.55" x2="890.05" y2="1372.75" stroke="#e4e4e4" stroke-width="2.5" />
<line x1="977.67" y1="991.55" x2="977.67" y2="1372.75" stroke="#e4e4e4" stroke-width="2.5" />
<line x1="1065.30" y1="991.55" x2="1065.30" y2="1372.75" stroke="#e4e4e4" stroke-width="2.5" />
<line x1="714.80" y1="992.80" x2="1065.30" y2="992.80" stroke="#e4e4e4" stroke-width="2.5" />
<line x1="714.80" y1="1087.47" x2="1065.30" y2="1087.47" stroke="#e4e4e4" stroke-width="2.5" />
<line x1="714.80" y1="1182.15" x2="1065.30" y2="1182.15" stroke="#e4e4e4" stroke-width="2.5" />
<line x1="714.80" y1="1276.83" x2="1065.30" y2="1276.83" stroke="#e4e4e4" stroke-width="2.5" />
<line x1="714.80" y1="1371.50" x2="1065.30" y2="1371.50" stroke="#e4e4e4" stroke-width="2.5" />
<line x1="758.61" y1="984.80" x2="758.61" y2="992.80" stroke="#e4e4e4" stroke-width="2.5" />
<line x1="758.61" y1="1371.50" x2="758.61" y2="1379.50" stroke="#e4e4e4" stroke-width="2.5" />
<line x1="846.24" y1="984.80" x2="846.24" y2="992.80" stroke="#e4e4e4" stroke-width="2.5" />
<line x1="846.24" y1="1371.50" x2="846.24" y2="1379.50" stroke="#e4e4e4" stroke-width="2.5" />
<line x1="933.86" y1="984.80" x2="933.86" y2="992.80" stroke="#e4e4e4" stroke-width="2.5" />
<line x1="933.86" y1="1371.50" x2="933.86" y2="1379.50" stroke="#e4e4e4" stroke-width="2.5" />
<line x1="1021.49" y1="984.80" x2="1021.49" y2="992.80" stroke="#e4e4e4" stroke-width="2.5" />
<line x1="1021.49" y1="1371.50" x2="1021.49" y2="1379.50" stroke="#e4e4e4" stroke-width="2.5" />
<line x1="706.80" y1="1040.14" x2="714.80" y2="1040.14" stroke="#e4e4e4" stroke-width="2.5" />
<line x1="1065.30" y1="1040.14" x2="1073.30" y2="1040.14" stroke="#e4e4e4" stroke-width="2.5" />
<line x1="706.80" y1="1134.81" x2="714.80" y2="1134.81" stroke="#e4e4e4" stroke-width="2.5" />
<line x1="1065.30" y1="1134.81" x2="1073.30" y2="1134.81" stroke="#e4e4e4" stroke-width="2.5" />
<line x1="706.80" y1="1229.49" x2="714.80" y2="1229.49" stroke="#e4e4e4" stroke-width="2.5" />
<line x1="1065.30" y1="1229.49" x2="1073.30" y2="1229.49" stroke="#e4e4e4" stroke-width="2.5" />
<line x1="706.80" y1="1324.16" x2="714.80" y2="1324.16" stroke="#e4e4e4" stroke-width="2.5" />
<line x1="1065.30" y1="1324.16" x2="1073.30" y2="1324.16" stroke="#e4e4e4" stroke-width="2.5" />
<text x="754.1" y="971.0" font-size="21.5" fill="#4d4d4d" text-anchor="middle" font-weight="normal" >ACE2</text>
<text x="846.9" y="970.0" font-size="21.5" fill="#4d4d4d" text-anchor="middle" font-weight="normal" >S1-D614G</text>
<text x="934.4" y="970.0" font-size="21.5" fill="#4d4d4d" text-anchor="middle" font-weight="normal" >BSG</text>
<text x="1022.7" y="969.5" font-size="21.5" fill="#4d4d4d" text-anchor="middle" font-weight="normal" >BSG-long</text>
<text x="693.5" y="1047.9" font-size="21.5" fill="#4d4d4d" text-anchor="end" font-weight="normal" >ACE2</text>
<text x="693.5" y="1142.6" font-size="21.5" fill="#4d4d4d" text-anchor="end" font-weight="normal" >S1-D614G</text>
<text x="693.5" y="1237.2" font-size="21.5" fill="#4d4d4d" text-anchor="end" font-weight="normal" >BSG</text>
<text x="693.5" y="1331.9" font-size="21.5" fill="#4d4d4d" text-anchor="end" font-weight="normal" >BSG-long</text>
<text x="886.6" y="927.7" font-size="30.5" fill="#000" text-anchor="middle" font-weight="normal" >Prey</text>
<text x="590.5" y="1197.5" font-size="30.5" fill="#000" text-anchor="middle" font-weight="normal" transform="rotate(-90 590.5 1197.5)" >Bait</text>
<text x="1121.0" y="969.6" font-size="30.5" fill="#000" text-anchor="start" font-weight="normal" >Normalized</text>
<text x="1121.0" y="1006.0" font-size="30.5" fill="#000" text-anchor="start" font-weight="normal" >absorbance</text>
<linearGradient id="lg1132" x1="0" y1="1" x2="0" y2="0"><stop offset="0.000" stop-color="#ffffff"/><stop offset="0.017" stop-color="#fffcfb"/><stop offset="0.033" stop-color="#fff9f6"/><stop offset="0.050" stop-color="#fff5f2"/><stop offset="0.067" stop-color="#fff2ee"/><stop offset="0.083" stop-color="#ffefe9"/><stop offset="0.100" stop-color="#ffece5"/><stop offset="0.117" stop-color="#ffe9e1"/><stop offset="0.133" stop-color="#ffe6dc"/><stop offset="0.150" stop-color="#ffe2d8"/><stop offset="0.167" stop-color="#ffdfd4"/><stop offset="0.183" stop-color="#ffdcd0"/><stop offset="0.200" stop-color="#ffd9cb"/><stop offset="0.217" stop-color="#ffd6c7"/><stop offset="0.233" stop-color="#ffd2c3"/><stop offset="0.250" stop-color="#ffcfbf"/><stop offset="0.267" stop-color="#ffccbb"/><stop offset="0.283" stop-color="#ffc9b6"/><stop offset="0.300" stop-color="#ffc6b2"/><stop offset="0.317" stop-color="#ffc2ae"/><stop offset="0.333" stop-color="#ffbfaa"/><stop offset="0.350" stop-color="#ffbca6"/><stop offset="0.367" stop-color="#ffb8a2"/><stop offset="0.383" stop-color="#ffb59e"/><stop offset="0.400" stop-color="#ffb299"/><stop offset="0.417" stop-color="#ffaf95"/><stop offset="0.433" stop-color="#ffab91"/><stop offset="0.450" stop-color="#ffa88d"/><stop offset="0.467" stop-color="#ffa589"/><stop offset="0.483" stop-color="#ffa185"/><stop offset="0.500" stop-color="#ff9e81"/><stop offset="0.517" stop-color="#ff9b7d"/><stop offset="0.533" stop-color="#ff9779"/><stop offset="0.550" stop-color="#ff9475"/><stop offset="0.567" stop-color="#ff9071"/><stop offset="0.583" stop-color="#ff8d6d"/><stop offset="0.600" stop-color="#ff8969"/><stop offset="0.617" stop-color="#ff8665"/><stop offset="0.633" stop-color="#ff8262"/><stop offset="0.650" stop-color="#ff7e5e"/><stop offset="0.667" stop-color="#ff7b5a"/><stop offset="0.683" stop-color="#ff7756"/><stop offset="0.700" stop-color="#ff7352"/><stop offset="0.717" stop-color="#ff6f4e"/><stop offset="0.733" stop-color="#ff6c4a"/><stop offset="0.750" stop-color="#ff6846"/><stop offset="0.767" stop-color="#ff6342"/><stop offset="0.783" stop-color="#ff5f3e"/><stop offset="0.800" stop-color="#ff5b3a"/><stop offset="0.817" stop-color="#ff5736"/><stop offset="0.833" stop-color="#ff5232"/><stop offset="0.850" stop-color="#ff4d2e"/><stop offset="0.867" stop-color="#ff482a"/><stop offset="0.883" stop-color="#ff4326"/><stop offset="0.900" stop-color="#ff3e22"/><stop offset="0.917" stop-color="#ff381d"/><stop offset="0.933" stop-color="#ff3118"/><stop offset="0.950" stop-color="#ff2913"/><stop offset="0.967" stop-color="#ff210d"/><stop offset="0.983" stop-color="#ff1506"/><stop offset="1.000" stop-color="#ff0000"/></linearGradient>
<rect x="1132.20" y="1034.00" width="61.10" height="329.80" fill="url(#lg1132)" />
<text x="1203.7" y="1371.4" font-size="17.8" fill="#000" text-anchor="start" font-weight="normal" >0.0</text>
<line x1="1132.20" y1="1308.83" x2="1144.42" y2="1308.83" stroke="#ffffff" stroke-width="1.3" stroke-opacity="0.8"/>
<line x1="1181.08" y1="1308.83" x2="1193.30" y2="1308.83" stroke="#ffffff" stroke-width="1.3" stroke-opacity="0.8"/>
<text x="1203.7" y="1316.4" font-size="17.8" fill="#000" text-anchor="start" font-weight="normal" >0.1</text>
<line x1="1132.20" y1="1253.87" x2="1144.42" y2="1253.87" stroke="#ffffff" stroke-width="1.3" stroke-opacity="0.8"/>
<line x1="1181.08" y1="1253.87" x2="1193.30" y2="1253.87" stroke="#ffffff" stroke-width="1.3" stroke-opacity="0.8"/>
<text x="1203.7" y="1261.5" font-size="17.8" fill="#000" text-anchor="start" font-weight="normal" >0.2</text>
<line x1="1132.20" y1="1198.90" x2="1144.42" y2="1198.90" stroke="#ffffff" stroke-width="1.3" stroke-opacity="0.8"/>
<line x1="1181.08" y1="1198.90" x2="1193.30" y2="1198.90" stroke="#ffffff" stroke-width="1.3" stroke-opacity="0.8"/>
<text x="1203.7" y="1206.5" font-size="17.8" fill="#000" text-anchor="start" font-weight="normal" >0.3</text>
<line x1="1132.20" y1="1143.93" x2="1144.42" y2="1143.93" stroke="#ffffff" stroke-width="1.3" stroke-opacity="0.8"/>
<line x1="1181.08" y1="1143.93" x2="1193.30" y2="1143.93" stroke="#ffffff" stroke-width="1.3" stroke-opacity="0.8"/>
<text x="1203.7" y="1151.5" font-size="17.8" fill="#000" text-anchor="start" font-weight="normal" >0.4</text>
<line x1="1132.20" y1="1088.97" x2="1144.42" y2="1088.97" stroke="#ffffff" stroke-width="1.3" stroke-opacity="0.8"/>
<line x1="1181.08" y1="1088.97" x2="1193.30" y2="1088.97" stroke="#ffffff" stroke-width="1.3" stroke-opacity="0.8"/>
<text x="1203.7" y="1096.6" font-size="17.8" fill="#000" text-anchor="start" font-weight="normal" >0.5</text>
<text x="12.0" y="1462.6" font-size="81.9" fill="#000" text-anchor="start" font-weight="bold" transform="translate(12 1462.6) scale(0.878 1) translate(-12 -1462.6)" >c</text>
<line x1="150.80" y1="1927.70" x2="1729.30" y2="1927.70" stroke="#ebebeb" stroke-width="2" />
<line x1="150.80" y1="1865.55" x2="1729.30" y2="1865.55" stroke="#ebebeb" stroke-width="1.5" />
<line x1="150.80" y1="1803.40" x2="1729.30" y2="1803.40" stroke="#ebebeb" stroke-width="2" />
<line x1="150.80" y1="1741.25" x2="1729.30" y2="1741.25" stroke="#ebebeb" stroke-width="1.5" />
<line x1="150.80" y1="1679.10" x2="1729.30" y2="1679.10" stroke="#ebebeb" stroke-width="2" />
<line x1="150.80" y1="1616.95" x2="1729.30" y2="1616.95" stroke="#ebebeb" stroke-width="1.5" />
<line x1="150.80" y1="1554.80" x2="1729.30" y2="1554.80" stroke="#ebebeb" stroke-width="2" />
<line x1="150.80" y1="1492.65" x2="1729.30" y2="1492.65" stroke="#ebebeb" stroke-width="1.5" />
<line x1="212.70" y1="1448.00" x2="212.70" y2="1949.50" stroke="#ebebeb" stroke-width="2" />
<line x1="371.00" y1="1468.50" x2="371.00" y2="1949.50" stroke="#ebebeb" stroke-width="2" />
<line x1="475.80" y1="1468.50" x2="475.80" y2="1949.50" stroke="#ebebeb" stroke-width="2" />
<line x1="582.00" y1="1468.50" x2="582.00" y2="1949.50" stroke="#ebebeb" stroke-width="2" />
<line x1="739.60" y1="1468.50" x2="739.60" y2="1949.50" stroke="#ebebeb" stroke-width="2" />
<line x1="844.20" y1="1468.50" x2="844.20" y2="1949.50" stroke="#ebebeb" stroke-width="2" />
<line x1="948.00" y1="1468.50" x2="948.00" y2="1949.50" stroke="#ebebeb" stroke-width="2" />
<line x1="1052.00" y1="1468.50" x2="1052.00" y2="1949.50" stroke="#ebebeb" stroke-width="2" />
<line x1="1154.20" y1="1468.50" x2="1154.20" y2="1949.50" stroke="#ebebeb" stroke-width="2" />
<line x1="1258.50" y1="1468.50" x2="1258.50" y2="1949.50" stroke="#ebebeb" stroke-width="2" />
<line x1="1413.80" y1="1448.00" x2="1413.80" y2="1949.50" stroke="#ebebeb" stroke-width="2" />
<line x1="1517.60" y1="1448.00" x2="1517.60" y2="1949.50" stroke="#ebebeb" stroke-width="2" />
<line x1="1679.60" y1="1448.00" x2="1679.60" y2="1949.50" stroke="#ebebeb" stroke-width="2" />
<line x1="213.30" y1="1469.60" x2="213.30" y2="1534.40" stroke="#000" stroke-width="2.6" />
<line x1="166.50" y1="1469.60" x2="260.00" y2="1469.60" stroke="#000" stroke-width="2.6" />
<rect x="165.6" y="1534.4" width="95.4" height="393.3" fill="#595959" fill-opacity="0.7" stroke="#000" stroke-width="2.6"/>
<line x1="371.35" y1="1729.60" x2="371.35" y2="1766.00" stroke="#000" stroke-width="2.6" />
<line x1="325.00" y1="1729.60" x2="418.00" y2="1729.60" stroke="#000" stroke-width="2.6" />
<rect x="324.2" y="1766.0" width="94.3" height="161.7" fill="#595959" fill-opacity="0.7" stroke="#000" stroke-width="2.6"/>
<line x1="475.50" y1="1720.00" x2="475.50" y2="1762.30" stroke="#000" stroke-width="2.6" />
<line x1="428.00" y1="1720.00" x2="522.30" y2="1720.00" stroke="#000" stroke-width="2.6" />
<rect x="428.0" y="1762.3" width="95.0" height="165.4" fill="#595959" fill-opacity="0.7" stroke="#000" stroke-width="2.6"/>
<line x1="581.70" y1="1773.80" x2="581.70" y2="1802.70" stroke="#000" stroke-width="2.6" />
<line x1="534.60" y1="1773.80" x2="628.80" y2="1773.80" stroke="#000" stroke-width="2.6" />
<rect x="533.8" y="1802.7" width="95.8" height="125.0" fill="#595959" fill-opacity="0.7" stroke="#000" stroke-width="2.6"/>
<line x1="1414.00" y1="1817.60" x2="1414.00" y2="1838.20" stroke="#000" stroke-width="2.6" />
<line x1="1367.00" y1="1817.60" x2="1460.40" y2="1817.60" stroke="#000" stroke-width="2.6" />
<rect x="1366.8" y="1838.2" width="94.4" height="89.5" fill="#595959" fill-opacity="0.7" stroke="#000" stroke-width="2.6"/>
<line x1="1517.60" y1="1841.70" x2="1517.60" y2="1857.30" stroke="#000" stroke-width="2.6" />
<line x1="1471.00" y1="1841.70" x2="1564.00" y2="1841.70" stroke="#000" stroke-width="2.6" />
<rect x="1470.2" y="1857.3" width="94.8" height="70.4" fill="#595959" fill-opacity="0.7" stroke="#000" stroke-width="2.6"/>
<line x1="691.50" y1="1927.70" x2="786.50" y2="1927.70" stroke="#000" stroke-width="2.6" />
<line x1="797.00" y1="1927.70" x2="891.00" y2="1927.70" stroke="#000" stroke-width="2.6" />
<line x1="900.00" y1="1927.70" x2="995.00" y2="1927.70" stroke="#000" stroke-width="2.6" />
<line x1="1003.80" y1="1927.70" x2="1098.80" y2="1927.70" stroke="#000" stroke-width="2.6" />
<line x1="1106.50" y1="1927.70" x2="1201.00" y2="1927.70" stroke="#000" stroke-width="2.6" />
<line x1="1210.80" y1="1927.70" x2="1305.80" y2="1927.70" stroke="#000" stroke-width="2.6" />
<line x1="1631.00" y1="1927.70" x2="1726.60" y2="1927.70" stroke="#000" stroke-width="2.6" />
<text x="135.8" y="1939.2" font-size="28" fill="#4d4d4d" text-anchor="end" font-weight="normal" >0.00</text>
<text x="135.8" y="1814.9" font-size="28" fill="#4d4d4d" text-anchor="end" font-weight="normal" >0.25</text>
<text x="135.8" y="1690.6" font-size="28" fill="#4d4d4d" text-anchor="end" font-weight="normal" >0.50</text>
<text x="135.8" y="1566.3" font-size="28" fill="#4d4d4d" text-anchor="end" font-weight="normal" >0.75</text>
<text x="54.3" y="1717.3" font-size="35.9" fill="#000" text-anchor="middle" font-weight="normal" transform="rotate(-90 54.3 1717.3)" >Normalized absorbance</text>
<text x="215.4" y="2003.0" font-size="25.5" fill="#4d4d4d" text-anchor="middle" font-weight="normal" transform="translate(215.4 2003) scale(1.15 1) translate(-215.4 -2003)" >CD200</text>
<text x="215.4" y="2032.0" font-size="25.5" fill="#4d4d4d" text-anchor="middle" font-weight="normal" transform="translate(215.4 2032) scale(1.15 1) translate(-215.4 -2032)" >+</text>
<text x="215.4" y="2062.5" font-size="25.5" fill="#4d4d4d" text-anchor="middle" font-weight="normal" transform="translate(215.4 2062.5) scale(1.15 1) translate(-215.4 -2062.5)" >CD200R</text>
<text x="377.0" y="2003.0" font-size="25.5" fill="#4d4d4d" text-anchor="middle" font-weight="normal" transform="translate(377 2003) scale(1.15 1) translate(-377 -2003)" >ACE2</text>
<text x="377.0" y="2032.0" font-size="25.5" fill="#4d4d4d" text-anchor="middle" font-weight="normal" transform="translate(377 2032) scale(1.15 1) translate(-377 -2032)" >+</text>
<text x="377.0" y="2062.5" font-size="25.5" fill="#4d4d4d" text-anchor="middle" font-weight="normal" transform="translate(377 2062.5) scale(1.15 1) translate(-377 -2062.5)" >S1</text>
<text x="480.8" y="2003.0" font-size="25.5" fill="#4d4d4d" text-anchor="middle" font-weight="normal" transform="translate(480.8 2003) scale(1.15 1) translate(-480.8 -2003)" >ACE2</text>
<text x="480.8" y="2032.0" font-size="25.5" fill="#4d4d4d" text-anchor="middle" font-weight="normal" transform="translate(480.8 2032) scale(1.15 1) translate(-480.8 -2032)" >+</text>
<text x="480.8" y="2062.0" font-size="25.5" fill="#4d4d4d" text-anchor="middle" font-weight="normal" transform="translate(480.8 2062) scale(1.15 1) translate(-480.8 -2062)" >Spike</text>
<text x="480.8" y="2092.0" font-size="25.5" fill="#4d4d4d" text-anchor="middle" font-weight="normal" transform="translate(480.8 2092) scale(1.15 1) translate(-480.8 -2092)" >full</text>
<text x="591.0" y="2003.0" font-size="25.5" fill="#4d4d4d" text-anchor="middle" font-weight="normal" transform="translate(591 2003) scale(1.15 1) translate(-591 -2003)" >ACE2</text>
<text x="591.0" y="2031.0" font-size="25.5" fill="#4d4d4d" text-anchor="middle" font-weight="normal" transform="translate(591 2031) scale(1.15 1) translate(-591 -2031)" >+</text>
<text x="591.0" y="2061.0" font-size="25.5" fill="#4d4d4d" text-anchor="middle" font-weight="normal" transform="translate(591 2061) scale(1.15 1) translate(-591 -2061)" >S1</text>
<text x="591.0" y="2091.0" font-size="25.5" fill="#4d4d4d" text-anchor="middle" font-weight="normal" transform="translate(591 2091) scale(1.15 1) translate(-591 -2091)" >D614G</text>
<text x="738.5" y="1992.3" font-size="25.5" fill="#4d4d4d" text-anchor="middle" font-weight="normal" transform="translate(738.5 1992.3) scale(1.15 1) translate(-738.5 -1992.3)" >BSG</text>
<text x="738.5" y="2020.0" font-size="25.5" fill="#4d4d4d" text-anchor="middle" font-weight="normal" transform="translate(738.5 2020) scale(1.15 1) translate(-738.5 -2020)" >+</text>
<text x="738.5" y="2051.0" font-size="25.5" fill="#4d4d4d" text-anchor="middle" font-weight="normal" transform="translate(738.5 2051) scale(1.15 1) translate(-738.5 -2051)" >S1</text>
<text x="841.0" y="1992.3" font-size="25.5" fill="#4d4d4d" text-anchor="middle" font-weight="normal" transform="translate(841 1992.3) scale(1.15 1) translate(-841 -1992.3)" >BSG</text>
<text x="841.0" y="2021.0" font-size="25.5" fill="#4d4d4d" text-anchor="middle" font-weight="normal" transform="translate(841 2021) scale(1.15 1) translate(-841 -2021)" >long</text>
<text x="841.0" y="2048.0" font-size="25.5" fill="#4d4d4d" text-anchor="middle" font-weight="normal" transform="translate(841 2048) scale(1.15 1) translate(-841 -2048)" >+</text>
<text x="841.0" y="2077.0" font-size="25.5" fill="#4d4d4d" text-anchor="middle" font-weight="normal" transform="translate(841 2077) scale(1.15 1) translate(-841 -2077)" >S1</text>
<text x="946.0" y="1993.0" font-size="25.5" fill="#4d4d4d" text-anchor="middle" font-weight="normal" transform="translate(946 1993) scale(1.15 1) translate(-946 -1993)" >BSG</text>
<text x="946.0" y="2021.0" font-size="25.5" fill="#4d4d4d" text-anchor="middle" font-weight="normal" transform="translate(946 2021) scale(1.15 1) translate(-946 -2021)" >+</text>
<text x="946.0" y="2050.0" font-size="25.5" fill="#4d4d4d" text-anchor="middle" font-weight="normal" transform="translate(946 2050) scale(1.15 1) translate(-946 -2050)" >Spike</text>
<text x="946.0" y="2080.0" font-size="25.5" fill="#4d4d4d" text-anchor="middle" font-weight="normal" transform="translate(946 2080) scale(1.15 1) translate(-946 -2080)" >full</text>
<text x="1052.0" y="1992.0" font-size="25.5" fill="#4d4d4d" text-anchor="middle" font-weight="normal" transform="translate(1052 1992) scale(1.15 1) translate(-1052 -1992)" >BSG</text>
<text x="1052.0" y="2019.0" font-size="25.5" fill="#4d4d4d" text-anchor="middle" font-weight="normal" transform="translate(1052 2019) scale(1.15 1) translate(-1052 -2019)" >long</text>
<text x="1052.0" y="2051.0" font-size="25.5" fill="#4d4d4d" text-anchor="middle" font-weight="normal" transform="translate(1052 2051) scale(1.15 1) translate(-1052 -2051)" >+</text>
<text x="1052.0" y="2077.0" font-size="25.5" fill="#4d4d4d" text-anchor="middle" font-weight="normal" transform="translate(1052 2077) scale(1.15 1) translate(-1052 -2077)" >Spike</text>
<text x="1052.0" y="2107.0" font-size="25.5" fill="#4d4d4d" text-anchor="middle" font-weight="normal" transform="translate(1052 2107) scale(1.15 1) translate(-1052 -2107)" >full</text>
<text x="1158.5" y="1996.0" font-size="25.5" fill="#4d4d4d" text-anchor="middle" font-weight="normal" transform="translate(1158.5 1996) scale(1.15 1) translate(-1158.5 -1996)" >BSG</text>
<text x="1158.5" y="2026.0" font-size="25.5" fill="#4d4d4d" text-anchor="middle" font-weight="normal" transform="translate(1158.5 2026) scale(1.15 1) translate(-1158.5 -2026)" >+</text>
<text x="1158.5" y="2054.0" font-size="25.5" fill="#4d4d4d" text-anchor="middle" font-weight="normal" transform="translate(1158.5 2054) scale(1.15 1) translate(-1158.5 -2054)" >S1</text>
<text x="1158.5" y="2086.5" font-size="25.5" fill="#4d4d4d" text-anchor="middle" font-weight="normal" transform="translate(1158.5 2086.5) scale(1.15 1) translate(-1158.5 -2086.5)" >D614G</text>
<text x="1261.5" y="1992.0" font-size="25.5" fill="#4d4d4d" text-anchor="middle" font-weight="normal" transform="translate(1261.5 1992) scale(1.15 1) translate(-1261.5 -1992)" >BSG</text>
<text x="1261.5" y="2020.0" font-size="25.5" fill="#4d4d4d" text-anchor="middle" font-weight="normal" transform="translate(1261.5 2020) scale(1.15 1) translate(-1261.5 -2020)" >long</text>
<text x="1261.5" y="2048.0" font-size="25.5" fill="#4d4d4d" text-anchor="middle" font-weight="normal" transform="translate(1261.5 2048) scale(1.15 1) translate(-1261.5 -2048)" >+</text>
<text x="1261.5" y="2077.0" font-size="25.5" fill="#4d4d4d" text-anchor="middle" font-weight="normal" transform="translate(1261.5 2077) scale(1.15 1) translate(-1261.5 -2077)" >S1</text>
<text x="1261.5" y="2106.5" font-size="25.5" fill="#4d4d4d" text-anchor="middle" font-weight="normal" transform="translate(1261.5 2106.5) scale(1.15 1) translate(-1261.5 -2106.5)" >D614G</text>
<text x="1415.8" y="1987.4" font-size="25.5" fill="#4d4d4d" text-anchor="middle" font-weight="normal" transform="translate(1415.8 1987.4) scale(1.15 1) translate(-1415.8 -1987.4)" >BSG</text>
<text x="1415.8" y="2018.0" font-size="25.5" fill="#4d4d4d" text-anchor="middle" font-weight="normal" transform="translate(1415.8 2018) scale(1.15 1) translate(-1415.8 -2018)" >+</text>
<text x="1415.8" y="2046.5" font-size="25.5" fill="#4d4d4d" text-anchor="middle" font-weight="normal" transform="translate(1415.8 2046.5) scale(1.15 1) translate(-1415.8 -2046.5)" >RH5</text>
<text x="1516.0" y="1982.8" font-size="25.5" fill="#4d4d4d" text-anchor="middle" font-weight="normal" transform="translate(1516 1982.8) scale(1.15 1) translate(-1516 -1982.8)" >BSG</text>
<text x="1516.0" y="2009.6" font-size="25.5" fill="#4d4d4d" text-anchor="middle" font-weight="normal" transform="translate(1516 2009.6) scale(1.15 1) translate(-1516 -2009.6)" >long</text>
<text x="1516.0" y="2038.0" font-size="25.5" fill="#4d4d4d" text-anchor="middle" font-weight="normal" transform="translate(1516 2038) scale(1.15 1) translate(-1516 -2038)" >+</text>
<text x="1516.0" y="2065.0" font-size="25.5" fill="#4d4d4d" text-anchor="middle" font-weight="normal" transform="translate(1516 2065) scale(1.15 1) translate(-1516 -2065)" >RH5</text>
<text x="1675.0" y="1991.3" font-size="25.5" fill="#4d4d4d" text-anchor="middle" font-weight="normal" transform="translate(1675 1991.3) scale(1.05 1) translate(-1675 -1991.3)" >All</text>
<text x="1675.0" y="2020.4" font-size="25.5" fill="#4d4d4d" text-anchor="middle" font-weight="normal" transform="translate(1675 2020.4) scale(1.05 1) translate(-1675 -2020.4)" >others</text>
<line x1="171.90" y1="2137.40" x2="246.70" y2="2137.40" stroke="#bfbfbf" stroke-width="6" />
<line x1="349.00" y1="2136.00" x2="607.70" y2="2136.00" stroke="#bfbfbf" stroke-width="6" />
<line x1="708.80" y1="2137.30" x2="1278.80" y2="2137.30" stroke="#bfbfbf" stroke-width="6" />
<line x1="1349.70" y1="2137.00" x2="1580.90" y2="2139.00" stroke="#bfbfbf" stroke-width="6" />
<line x1="1631.40" y1="2137.00" x2="1742.90" y2="2137.00" stroke="#bfbfbf" stroke-width="6" />
<text x="213.7" y="2195.0" font-size="35.5" fill="#000" text-anchor="middle" font-weight="normal" >Low-affinity</text>
<text x="213.7" y="2238.0" font-size="35.5" fill="#000" text-anchor="middle" font-weight="normal" >control</text>
<text x="478.3" y="2195.0" font-size="35.5" fill="#000" text-anchor="middle" font-weight="normal" >ACE2 – spike</text>
<text x="478.3" y="2238.0" font-size="35.5" fill="#000" text-anchor="middle" font-weight="normal" >interactions</text>
<text x="991.0" y="2203.8" font-size="35.5" fill="#000" text-anchor="middle" font-weight="normal" >Basigin – spike</text>
<text x="991.0" y="2246.0" font-size="35.5" fill="#000" text-anchor="middle" font-weight="normal" >interactions</text>
<text x="1465.8" y="2202.3" font-size="35.5" fill="#000" text-anchor="middle" font-weight="normal" >Basigin – RH5</text>
<text x="1465.8" y="2244.0" font-size="35.5" fill="#000" text-anchor="middle" font-weight="normal" >interactions</text>
<text x="1691.0" y="2201.0" font-size="35.5" fill="#000" text-anchor="middle" font-weight="normal" >Non-</text>
<text x="1691.0" y="2242.0" font-size="35.5" fill="#000" text-anchor="middle" font-weight="normal" >interactors</text></svg>
</body></html>
